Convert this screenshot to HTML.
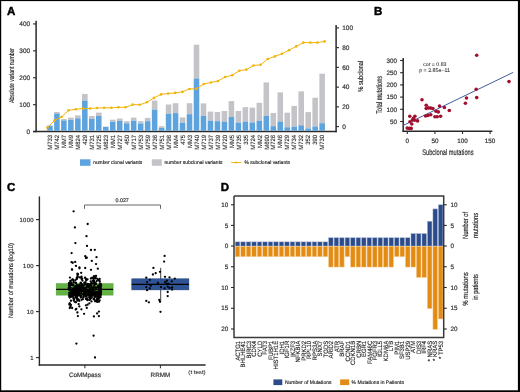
<!DOCTYPE html>
<html><head><meta charset="utf-8"><style>
html,body{margin:0;padding:0;background:#fff;}
svg{display:block;font-family:"Liberation Sans", sans-serif;will-change:transform;text-rendering:geometricPrecision;}
</style></head><body>
<svg width="520" height="392" viewBox="0 0 520 392">

<rect x="0.00" y="0.00" width="520.00" height="1.10" fill="#000"/>
<rect x="0.00" y="0.00" width="1.20" height="392.00" fill="#000"/>
<rect x="517.90" y="0.00" width="2.10" height="392.00" fill="#000"/>
<rect x="0.00" y="390.30" width="520.00" height="1.70" fill="#000"/>
<text x="7.00" y="14.80" font-size="11.5" text-anchor="start" font-weight="bold" fill="#000" stroke="#000" stroke-width="0.45">A</text>
<line x1="36.10" y1="20.80" x2="36.10" y2="132.20" stroke="#2a2a2a" stroke-width="1.5"/>
<line x1="33.00" y1="131.60" x2="36.10" y2="131.60" stroke="#2a2a2a" stroke-width="1.1"/>
<text x="30.20" y="133.90" font-size="6.5" text-anchor="end" font-weight="normal" fill="#333" stroke="#333" stroke-width="0.2">0</text>
<line x1="33.00" y1="104.68" x2="36.10" y2="104.68" stroke="#2a2a2a" stroke-width="1.1"/>
<text x="30.20" y="106.98" font-size="6.5" text-anchor="end" font-weight="normal" fill="#333" stroke="#333" stroke-width="0.2">100</text>
<line x1="33.00" y1="77.76" x2="36.10" y2="77.76" stroke="#2a2a2a" stroke-width="1.1"/>
<text x="30.20" y="80.06" font-size="6.5" text-anchor="end" font-weight="normal" fill="#333" stroke="#333" stroke-width="0.2">200</text>
<line x1="33.00" y1="50.84" x2="36.10" y2="50.84" stroke="#2a2a2a" stroke-width="1.1"/>
<text x="30.20" y="53.14" font-size="6.5" text-anchor="end" font-weight="normal" fill="#333" stroke="#333" stroke-width="0.2">300</text>
<line x1="33.00" y1="23.92" x2="36.10" y2="23.92" stroke="#2a2a2a" stroke-width="1.1"/>
<text x="30.20" y="26.22" font-size="6.5" text-anchor="end" font-weight="normal" fill="#333" stroke="#333" stroke-width="0.2">400</text>
<line x1="33.00" y1="131.50" x2="336.60" y2="131.50" stroke="#2a2a2a" stroke-width="1.5"/>
<line x1="336.10" y1="25.00" x2="336.10" y2="132.20" stroke="#2a2a2a" stroke-width="1.5"/>
<line x1="336.10" y1="126.60" x2="339.00" y2="126.60" stroke="#2a2a2a" stroke-width="1.1"/>
<text x="342.20" y="128.90" font-size="6.5" text-anchor="start" font-weight="normal" fill="#333" stroke="#333" stroke-width="0.2">0</text>
<line x1="336.10" y1="106.86" x2="339.00" y2="106.86" stroke="#2a2a2a" stroke-width="1.1"/>
<text x="342.20" y="109.16" font-size="6.5" text-anchor="start" font-weight="normal" fill="#333" stroke="#333" stroke-width="0.2">20</text>
<line x1="336.10" y1="87.12" x2="339.00" y2="87.12" stroke="#2a2a2a" stroke-width="1.1"/>
<text x="342.20" y="89.42" font-size="6.5" text-anchor="start" font-weight="normal" fill="#333" stroke="#333" stroke-width="0.2">40</text>
<line x1="336.10" y1="67.38" x2="339.00" y2="67.38" stroke="#2a2a2a" stroke-width="1.1"/>
<text x="342.20" y="69.68" font-size="6.5" text-anchor="start" font-weight="normal" fill="#333" stroke="#333" stroke-width="0.2">60</text>
<line x1="336.10" y1="47.64" x2="339.00" y2="47.64" stroke="#2a2a2a" stroke-width="1.1"/>
<text x="342.20" y="49.94" font-size="6.5" text-anchor="start" font-weight="normal" fill="#333" stroke="#333" stroke-width="0.2">80</text>
<line x1="336.10" y1="27.90" x2="339.00" y2="27.90" stroke="#2a2a2a" stroke-width="1.1"/>
<text x="342.20" y="30.20" font-size="6.5" text-anchor="start" font-weight="normal" fill="#333" stroke="#333" stroke-width="0.2">100</text>
<text x="0.00" y="0.00" font-size="7.2" text-anchor="middle" font-weight="normal" fill="#222" stroke="#222" stroke-width="0.15" transform="translate(363.30,76.20) rotate(-90)" textLength="31" lengthAdjust="spacingAndGlyphs">% subclonal</text>
<text x="0.00" y="0.00" font-size="7.0" text-anchor="middle" font-weight="normal" fill="#222" stroke="#222" stroke-width="0.15" transform="translate(13.90,75.50) rotate(-90)" textLength="55" lengthAdjust="spacingAndGlyphs">Absolute variant number</text>
<rect x="47.15" y="125.60" width="5.55" height="5.15" fill="#5DA3DE"/>
<text x="0.00" y="0.00" font-size="6.2" text-anchor="end" font-weight="normal" fill="#222" stroke="#222" stroke-width="0.12" transform="translate(52.12,134.90) rotate(-90) scale(0.96,1)">M733</text>
<rect x="54.13" y="112.00" width="5.55" height="1.50" fill="#C4C3C8"/>
<rect x="54.13" y="113.50" width="5.55" height="17.25" fill="#5DA3DE"/>
<text x="0.00" y="0.00" font-size="6.2" text-anchor="end" font-weight="normal" fill="#222" stroke="#222" stroke-width="0.12" transform="translate(59.10,134.90) rotate(-90) scale(0.96,1)">M742</text>
<rect x="61.11" y="119.00" width="5.55" height="1.40" fill="#C4C3C8"/>
<rect x="61.11" y="120.40" width="5.55" height="10.35" fill="#5DA3DE"/>
<text x="0.00" y="0.00" font-size="6.2" text-anchor="end" font-weight="normal" fill="#222" stroke="#222" stroke-width="0.12" transform="translate(66.08,134.90) rotate(-90) scale(0.96,1)">MM7</text>
<rect x="68.09" y="117.60" width="5.55" height="2.20" fill="#C4C3C8"/>
<rect x="68.09" y="119.80" width="5.55" height="10.95" fill="#5DA3DE"/>
<text x="0.00" y="0.00" font-size="6.2" text-anchor="end" font-weight="normal" fill="#222" stroke="#222" stroke-width="0.12" transform="translate(73.07,134.90) rotate(-90) scale(0.96,1)">MM9</text>
<rect x="75.07" y="115.40" width="5.55" height="2.90" fill="#C4C3C8"/>
<rect x="75.07" y="118.30" width="5.55" height="12.45" fill="#5DA3DE"/>
<text x="0.00" y="0.00" font-size="6.2" text-anchor="end" font-weight="normal" fill="#222" stroke="#222" stroke-width="0.12" transform="translate(80.05,134.90) rotate(-90) scale(0.96,1)">M824</text>
<rect x="82.05" y="94.00" width="5.55" height="6.70" fill="#C4C3C8"/>
<rect x="82.05" y="100.70" width="5.55" height="30.05" fill="#5DA3DE"/>
<text x="0.00" y="0.00" font-size="6.2" text-anchor="end" font-weight="normal" fill="#222" stroke="#222" stroke-width="0.12" transform="translate(87.03,134.90) rotate(-90) scale(0.96,1)">429</text>
<rect x="89.03" y="116.00" width="5.55" height="2.90" fill="#C4C3C8"/>
<rect x="89.03" y="118.90" width="5.55" height="11.85" fill="#5DA3DE"/>
<text x="0.00" y="0.00" font-size="6.2" text-anchor="end" font-weight="normal" fill="#222" stroke="#222" stroke-width="0.12" transform="translate(94.01,134.90) rotate(-90) scale(0.96,1)">M731</text>
<rect x="96.01" y="112.60" width="5.55" height="3.40" fill="#C4C3C8"/>
<rect x="96.01" y="116.00" width="5.55" height="14.75" fill="#5DA3DE"/>
<text x="0.00" y="0.00" font-size="6.2" text-anchor="end" font-weight="normal" fill="#222" stroke="#222" stroke-width="0.12" transform="translate(100.98,134.90) rotate(-90) scale(0.96,1)">M725</text>
<rect x="102.99" y="126.50" width="5.55" height="0.50" fill="#C4C3C8"/>
<rect x="102.99" y="127.00" width="5.55" height="3.75" fill="#5DA3DE"/>
<text x="0.00" y="0.00" font-size="6.2" text-anchor="end" font-weight="normal" fill="#222" stroke="#222" stroke-width="0.12" transform="translate(107.97,134.90) rotate(-90) scale(0.96,1)">M823</text>
<rect x="109.97" y="119.70" width="5.55" height="2.10" fill="#C4C3C8"/>
<rect x="109.97" y="121.80" width="5.55" height="8.95" fill="#5DA3DE"/>
<text x="0.00" y="0.00" font-size="6.2" text-anchor="end" font-weight="normal" fill="#222" stroke="#222" stroke-width="0.12" transform="translate(114.95,134.90) rotate(-90) scale(0.96,1)">MM1</text>
<rect x="116.95" y="118.50" width="5.55" height="2.30" fill="#C4C3C8"/>
<rect x="116.95" y="120.80" width="5.55" height="9.95" fill="#5DA3DE"/>
<text x="0.00" y="0.00" font-size="6.2" text-anchor="end" font-weight="normal" fill="#222" stroke="#222" stroke-width="0.12" transform="translate(121.93,134.90) rotate(-90) scale(0.96,1)">M727</text>
<rect x="123.93" y="121.20" width="5.55" height="2.10" fill="#C4C3C8"/>
<rect x="123.93" y="123.30" width="5.55" height="7.45" fill="#5DA3DE"/>
<text x="0.00" y="0.00" font-size="6.2" text-anchor="end" font-weight="normal" fill="#222" stroke="#222" stroke-width="0.12" transform="translate(128.91,134.90) rotate(-90) scale(0.96,1)">450</text>
<rect x="130.91" y="117.60" width="5.55" height="3.20" fill="#C4C3C8"/>
<rect x="130.91" y="120.80" width="5.55" height="9.95" fill="#5DA3DE"/>
<text x="0.00" y="0.00" font-size="6.2" text-anchor="end" font-weight="normal" fill="#222" stroke="#222" stroke-width="0.12" transform="translate(135.88,134.90) rotate(-90) scale(0.96,1)">M717</text>
<rect x="137.89" y="121.20" width="5.55" height="2.30" fill="#C4C3C8"/>
<rect x="137.89" y="123.50" width="5.55" height="7.25" fill="#5DA3DE"/>
<text x="0.00" y="0.00" font-size="6.2" text-anchor="end" font-weight="normal" fill="#222" stroke="#222" stroke-width="0.12" transform="translate(142.87,134.90) rotate(-90) scale(0.96,1)">M753</text>
<rect x="144.87" y="117.90" width="5.55" height="3.30" fill="#C4C3C8"/>
<rect x="144.87" y="121.20" width="5.55" height="9.55" fill="#5DA3DE"/>
<text x="0.00" y="0.00" font-size="6.2" text-anchor="end" font-weight="normal" fill="#222" stroke="#222" stroke-width="0.12" transform="translate(149.84,134.90) rotate(-90) scale(0.96,1)">M759</text>
<rect x="151.85" y="100.50" width="5.55" height="9.10" fill="#C4C3C8"/>
<rect x="151.85" y="109.60" width="5.55" height="21.15" fill="#5DA3DE"/>
<text x="0.00" y="0.00" font-size="6.2" text-anchor="end" font-weight="normal" fill="#222" stroke="#222" stroke-width="0.12" transform="translate(156.82,134.90) rotate(-90) scale(0.96,1)">M736</text>
<rect x="158.83" y="126.20" width="5.55" height="1.80" fill="#C4C3C8"/>
<rect x="158.83" y="128.00" width="5.55" height="2.75" fill="#5DA3DE"/>
<text x="0.00" y="0.00" font-size="6.2" text-anchor="end" font-weight="normal" fill="#222" stroke="#222" stroke-width="0.12" transform="translate(163.81,134.90) rotate(-90) scale(0.96,1)">M751</text>
<rect x="165.81" y="104.50" width="5.55" height="9.40" fill="#C4C3C8"/>
<rect x="165.81" y="113.90" width="5.55" height="16.85" fill="#5DA3DE"/>
<text x="0.00" y="0.00" font-size="6.2" text-anchor="end" font-weight="normal" fill="#222" stroke="#222" stroke-width="0.12" transform="translate(170.78,134.90) rotate(-90) scale(0.96,1)">M796</text>
<rect x="172.79" y="103.20" width="5.55" height="9.90" fill="#C4C3C8"/>
<rect x="172.79" y="113.10" width="5.55" height="17.65" fill="#5DA3DE"/>
<text x="0.00" y="0.00" font-size="6.2" text-anchor="end" font-weight="normal" fill="#222" stroke="#222" stroke-width="0.12" transform="translate(177.77,134.90) rotate(-90) scale(0.96,1)">MM4</text>
<rect x="179.77" y="117.40" width="5.55" height="5.40" fill="#C4C3C8"/>
<rect x="179.77" y="122.80" width="5.55" height="7.95" fill="#5DA3DE"/>
<text x="0.00" y="0.00" font-size="6.2" text-anchor="end" font-weight="normal" fill="#222" stroke="#222" stroke-width="0.12" transform="translate(184.75,134.90) rotate(-90) scale(0.96,1)">475</text>
<rect x="186.75" y="103.20" width="5.55" height="11.00" fill="#C4C3C8"/>
<rect x="186.75" y="114.20" width="5.55" height="16.55" fill="#5DA3DE"/>
<text x="0.00" y="0.00" font-size="6.2" text-anchor="end" font-weight="normal" fill="#222" stroke="#222" stroke-width="0.12" transform="translate(191.73,134.90) rotate(-90) scale(0.96,1)">MM3</text>
<rect x="193.73" y="44.70" width="5.55" height="33.80" fill="#C4C3C8"/>
<rect x="193.73" y="78.50" width="5.55" height="52.25" fill="#5DA3DE"/>
<text x="0.00" y="0.00" font-size="6.2" text-anchor="end" font-weight="normal" fill="#222" stroke="#222" stroke-width="0.12" transform="translate(198.71,134.90) rotate(-90) scale(0.96,1)">M740</text>
<rect x="200.71" y="103.40" width="5.55" height="12.40" fill="#C4C3C8"/>
<rect x="200.71" y="115.80" width="5.55" height="14.95" fill="#5DA3DE"/>
<text x="0.00" y="0.00" font-size="6.2" text-anchor="end" font-weight="normal" fill="#222" stroke="#222" stroke-width="0.12" transform="translate(205.69,134.90) rotate(-90) scale(0.96,1)">M719</text>
<rect x="207.69" y="111.60" width="5.55" height="9.20" fill="#C4C3C8"/>
<rect x="207.69" y="120.80" width="5.55" height="9.95" fill="#5DA3DE"/>
<text x="0.00" y="0.00" font-size="6.2" text-anchor="end" font-weight="normal" fill="#222" stroke="#222" stroke-width="0.12" transform="translate(212.67,134.90) rotate(-90) scale(0.96,1)">M737</text>
<rect x="214.67" y="112.00" width="5.55" height="9.20" fill="#C4C3C8"/>
<rect x="214.67" y="121.20" width="5.55" height="9.55" fill="#5DA3DE"/>
<text x="0.00" y="0.00" font-size="6.2" text-anchor="end" font-weight="normal" fill="#222" stroke="#222" stroke-width="0.12" transform="translate(219.65,134.90) rotate(-90) scale(0.96,1)">M739</text>
<rect x="221.65" y="111.00" width="5.55" height="10.60" fill="#C4C3C8"/>
<rect x="221.65" y="121.60" width="5.55" height="9.15" fill="#5DA3DE"/>
<text x="0.00" y="0.00" font-size="6.2" text-anchor="end" font-weight="normal" fill="#222" stroke="#222" stroke-width="0.12" transform="translate(226.62,134.90) rotate(-90) scale(0.96,1)">M720</text>
<rect x="228.63" y="101.10" width="5.55" height="15.90" fill="#C4C3C8"/>
<rect x="228.63" y="117.00" width="5.55" height="13.75" fill="#5DA3DE"/>
<text x="0.00" y="0.00" font-size="6.2" text-anchor="end" font-weight="normal" fill="#222" stroke="#222" stroke-width="0.12" transform="translate(233.61,134.90) rotate(-90) scale(0.96,1)">MM5</text>
<rect x="235.61" y="111.00" width="5.55" height="11.70" fill="#C4C3C8"/>
<rect x="235.61" y="122.70" width="5.55" height="8.05" fill="#5DA3DE"/>
<text x="0.00" y="0.00" font-size="6.2" text-anchor="end" font-weight="normal" fill="#222" stroke="#222" stroke-width="0.12" transform="translate(240.59,134.90) rotate(-90) scale(0.96,1)">M735</text>
<rect x="242.59" y="107.20" width="5.55" height="14.40" fill="#C4C3C8"/>
<rect x="242.59" y="121.60" width="5.55" height="9.15" fill="#5DA3DE"/>
<text x="0.00" y="0.00" font-size="6.2" text-anchor="end" font-weight="normal" fill="#222" stroke="#222" stroke-width="0.12" transform="translate(247.56,134.90) rotate(-90) scale(0.96,1)">335</text>
<rect x="249.57" y="107.60" width="5.55" height="14.90" fill="#C4C3C8"/>
<rect x="249.57" y="122.50" width="5.55" height="8.25" fill="#5DA3DE"/>
<text x="0.00" y="0.00" font-size="6.2" text-anchor="end" font-weight="normal" fill="#222" stroke="#222" stroke-width="0.12" transform="translate(254.55,134.90) rotate(-90) scale(0.96,1)">M724</text>
<rect x="256.55" y="102.80" width="5.55" height="18.00" fill="#C4C3C8"/>
<rect x="256.55" y="120.80" width="5.55" height="9.95" fill="#5DA3DE"/>
<text x="0.00" y="0.00" font-size="6.2" text-anchor="end" font-weight="normal" fill="#222" stroke="#222" stroke-width="0.12" transform="translate(261.52,134.90) rotate(-90) scale(0.96,1)">MM2</text>
<rect x="263.53" y="82.40" width="5.55" height="33.50" fill="#C4C3C8"/>
<rect x="263.53" y="115.90" width="5.55" height="14.85" fill="#5DA3DE"/>
<text x="0.00" y="0.00" font-size="6.2" text-anchor="end" font-weight="normal" fill="#222" stroke="#222" stroke-width="0.12" transform="translate(268.50,134.90) rotate(-90) scale(0.96,1)">M690</text>
<rect x="270.51" y="113.00" width="5.55" height="13.20" fill="#C4C3C8"/>
<rect x="270.51" y="126.20" width="5.55" height="4.55" fill="#5DA3DE"/>
<text x="0.00" y="0.00" font-size="6.2" text-anchor="end" font-weight="normal" fill="#222" stroke="#222" stroke-width="0.12" transform="translate(275.48,134.90) rotate(-90) scale(0.96,1)">M726</text>
<rect x="277.49" y="92.40" width="5.55" height="29.10" fill="#C4C3C8"/>
<rect x="277.49" y="121.50" width="5.55" height="9.25" fill="#5DA3DE"/>
<text x="0.00" y="0.00" font-size="6.2" text-anchor="end" font-weight="normal" fill="#222" stroke="#222" stroke-width="0.12" transform="translate(282.46,134.90) rotate(-90) scale(0.96,1)">MM6</text>
<rect x="284.47" y="112.70" width="5.55" height="14.60" fill="#C4C3C8"/>
<rect x="284.47" y="127.30" width="5.55" height="3.45" fill="#5DA3DE"/>
<text x="0.00" y="0.00" font-size="6.2" text-anchor="end" font-weight="normal" fill="#222" stroke="#222" stroke-width="0.12" transform="translate(289.44,134.90) rotate(-90) scale(0.96,1)">M729</text>
<rect x="291.45" y="105.90" width="5.55" height="20.80" fill="#C4C3C8"/>
<rect x="291.45" y="126.70" width="5.55" height="4.05" fill="#5DA3DE"/>
<text x="0.00" y="0.00" font-size="6.2" text-anchor="end" font-weight="normal" fill="#222" stroke="#222" stroke-width="0.12" transform="translate(296.42,134.90) rotate(-90) scale(0.96,1)">M734</text>
<rect x="298.43" y="91.30" width="5.55" height="34.00" fill="#C4C3C8"/>
<rect x="298.43" y="125.30" width="5.55" height="5.45" fill="#5DA3DE"/>
<text x="0.00" y="0.00" font-size="6.2" text-anchor="end" font-weight="normal" fill="#222" stroke="#222" stroke-width="0.12" transform="translate(303.40,134.90) rotate(-90) scale(0.96,1)">M732</text>
<rect x="305.41" y="112.10" width="5.55" height="16.40" fill="#C4C3C8"/>
<rect x="305.41" y="128.50" width="5.55" height="2.25" fill="#5DA3DE"/>
<text x="0.00" y="0.00" font-size="6.2" text-anchor="end" font-weight="normal" fill="#222" stroke="#222" stroke-width="0.12" transform="translate(310.38,134.90) rotate(-90) scale(0.96,1)">352</text>
<rect x="312.39" y="97.70" width="5.55" height="28.80" fill="#C4C3C8"/>
<rect x="312.39" y="126.50" width="5.55" height="4.25" fill="#5DA3DE"/>
<text x="0.00" y="0.00" font-size="6.2" text-anchor="end" font-weight="normal" fill="#222" stroke="#222" stroke-width="0.12" transform="translate(317.36,134.90) rotate(-90) scale(0.96,1)">390</text>
<rect x="319.37" y="73.70" width="5.55" height="49.50" fill="#C4C3C8"/>
<rect x="319.37" y="123.20" width="5.55" height="7.55" fill="#5DA3DE"/>
<text x="0.00" y="0.00" font-size="6.2" text-anchor="end" font-weight="normal" fill="#222" stroke="#222" stroke-width="0.12" transform="translate(324.34,134.90) rotate(-90) scale(0.96,1)">M730</text>
<polyline points="47.30,127.80 54.41,120.60 61.52,117.00 68.63,110.30 75.74,109.30 82.85,108.50 89.96,108.50 97.07,108.00 104.18,107.80 111.29,107.80 118.40,107.30 125.51,107.30 132.62,104.60 139.73,104.80 146.84,102.30 153.95,97.90 161.06,94.40 168.17,93.50 175.28,92.90 182.39,91.90 189.50,89.00 196.61,88.80 203.72,84.00 210.83,82.50 217.94,81.00 225.05,77.00 232.16,75.30 239.27,70.70 246.38,69.60 253.49,65.50 260.60,64.80 267.71,59.00 274.82,56.40 281.93,53.70 289.04,50.20 296.15,46.40 303.26,42.60 310.37,42.60 317.48,42.60 324.59,41.40" fill="none" stroke="#F1B409" stroke-width="1.0"/>
<circle cx="47.30" cy="127.80" r="1.3" fill="#F1B409"/>
<circle cx="54.41" cy="120.60" r="1.3" fill="#F1B409"/>
<circle cx="61.52" cy="117.00" r="1.3" fill="#F1B409"/>
<circle cx="68.63" cy="110.30" r="1.3" fill="#F1B409"/>
<circle cx="75.74" cy="109.30" r="1.3" fill="#F1B409"/>
<circle cx="82.85" cy="108.50" r="1.3" fill="#F1B409"/>
<circle cx="89.96" cy="108.50" r="1.3" fill="#F1B409"/>
<circle cx="97.07" cy="108.00" r="1.3" fill="#F1B409"/>
<circle cx="104.18" cy="107.80" r="1.3" fill="#F1B409"/>
<circle cx="111.29" cy="107.80" r="1.3" fill="#F1B409"/>
<circle cx="118.40" cy="107.30" r="1.3" fill="#F1B409"/>
<circle cx="125.51" cy="107.30" r="1.3" fill="#F1B409"/>
<circle cx="132.62" cy="104.60" r="1.3" fill="#F1B409"/>
<circle cx="139.73" cy="104.80" r="1.3" fill="#F1B409"/>
<circle cx="146.84" cy="102.30" r="1.3" fill="#F1B409"/>
<circle cx="153.95" cy="97.90" r="1.3" fill="#F1B409"/>
<circle cx="161.06" cy="94.40" r="1.3" fill="#F1B409"/>
<circle cx="168.17" cy="93.50" r="1.3" fill="#F1B409"/>
<circle cx="175.28" cy="92.90" r="1.3" fill="#F1B409"/>
<circle cx="182.39" cy="91.90" r="1.3" fill="#F1B409"/>
<circle cx="189.50" cy="89.00" r="1.3" fill="#F1B409"/>
<circle cx="196.61" cy="88.80" r="1.3" fill="#F1B409"/>
<circle cx="203.72" cy="84.00" r="1.3" fill="#F1B409"/>
<circle cx="210.83" cy="82.50" r="1.3" fill="#F1B409"/>
<circle cx="217.94" cy="81.00" r="1.3" fill="#F1B409"/>
<circle cx="225.05" cy="77.00" r="1.3" fill="#F1B409"/>
<circle cx="232.16" cy="75.30" r="1.3" fill="#F1B409"/>
<circle cx="239.27" cy="70.70" r="1.3" fill="#F1B409"/>
<circle cx="246.38" cy="69.60" r="1.3" fill="#F1B409"/>
<circle cx="253.49" cy="65.50" r="1.3" fill="#F1B409"/>
<circle cx="260.60" cy="64.80" r="1.3" fill="#F1B409"/>
<circle cx="267.71" cy="59.00" r="1.3" fill="#F1B409"/>
<circle cx="274.82" cy="56.40" r="1.3" fill="#F1B409"/>
<circle cx="281.93" cy="53.70" r="1.3" fill="#F1B409"/>
<circle cx="289.04" cy="50.20" r="1.3" fill="#F1B409"/>
<circle cx="296.15" cy="46.40" r="1.3" fill="#F1B409"/>
<circle cx="303.26" cy="42.60" r="1.3" fill="#F1B409"/>
<circle cx="310.37" cy="42.60" r="1.3" fill="#F1B409"/>
<circle cx="317.48" cy="42.60" r="1.3" fill="#F1B409"/>
<circle cx="324.59" cy="41.40" r="1.3" fill="#F1B409"/>
<rect x="80.00" y="159.30" width="10.50" height="6.50" fill="#5DA3DE"/>
<text x="93.20" y="164.30" font-size="5.2" text-anchor="start" font-weight="normal" fill="#222" stroke="#222" stroke-width="0.15" textLength="49" lengthAdjust="spacingAndGlyphs">number clonal variants</text>
<rect x="151.80" y="159.30" width="10.00" height="6.50" fill="#C4C3C8"/>
<text x="164.50" y="164.30" font-size="5.2" text-anchor="start" font-weight="normal" fill="#222" stroke="#222" stroke-width="0.15" textLength="58" lengthAdjust="spacingAndGlyphs">number subclonal variants</text>
<line x1="231.20" y1="162.50" x2="241.20" y2="162.50" stroke="#F1B409" stroke-width="1.0"/>
<circle cx="236.2" cy="162.5" r="1.1" fill="#F1B409"/>
<text x="244.50" y="164.30" font-size="5.2" text-anchor="start" font-weight="normal" fill="#222" stroke="#222" stroke-width="0.15" textLength="45.5" lengthAdjust="spacingAndGlyphs">% subclonal variants</text>
<text x="374.00" y="14.80" font-size="11.5" text-anchor="start" font-weight="bold" fill="#000" stroke="#000" stroke-width="0.45">B</text>
<line x1="403.20" y1="57.90" x2="403.20" y2="131.90" stroke="#2a2a2a" stroke-width="1.5"/>
<line x1="402.50" y1="131.30" x2="492.40" y2="131.30" stroke="#2a2a2a" stroke-width="1.5"/>
<line x1="400.10" y1="121.50" x2="403.20" y2="121.50" stroke="#2a2a2a" stroke-width="1.1"/>
<text x="397.00" y="123.70" font-size="6.3" text-anchor="end" font-weight="normal" fill="#333" stroke="#333" stroke-width="0.2">50</text>
<line x1="400.10" y1="109.30" x2="403.20" y2="109.30" stroke="#2a2a2a" stroke-width="1.1"/>
<text x="397.00" y="111.50" font-size="6.3" text-anchor="end" font-weight="normal" fill="#333" stroke="#333" stroke-width="0.2">100</text>
<line x1="400.10" y1="97.10" x2="403.20" y2="97.10" stroke="#2a2a2a" stroke-width="1.1"/>
<text x="397.00" y="99.30" font-size="6.3" text-anchor="end" font-weight="normal" fill="#333" stroke="#333" stroke-width="0.2">150</text>
<line x1="400.10" y1="84.90" x2="403.20" y2="84.90" stroke="#2a2a2a" stroke-width="1.1"/>
<text x="397.00" y="87.10" font-size="6.3" text-anchor="end" font-weight="normal" fill="#333" stroke="#333" stroke-width="0.2">200</text>
<line x1="400.10" y1="72.70" x2="403.20" y2="72.70" stroke="#2a2a2a" stroke-width="1.1"/>
<text x="397.00" y="74.90" font-size="6.3" text-anchor="end" font-weight="normal" fill="#333" stroke="#333" stroke-width="0.2">250</text>
<line x1="400.10" y1="60.50" x2="403.20" y2="60.50" stroke="#2a2a2a" stroke-width="1.1"/>
<text x="397.00" y="62.70" font-size="6.3" text-anchor="end" font-weight="normal" fill="#333" stroke="#333" stroke-width="0.2">300</text>
<line x1="407.30" y1="131.30" x2="407.30" y2="134.00" stroke="#2a2a2a" stroke-width="1.1"/>
<text x="407.30" y="143.30" font-size="6.3" text-anchor="middle" font-weight="normal" fill="#333" stroke="#333" stroke-width="0.2">0</text>
<line x1="434.90" y1="131.30" x2="434.90" y2="134.00" stroke="#2a2a2a" stroke-width="1.1"/>
<text x="434.90" y="143.30" font-size="6.3" text-anchor="middle" font-weight="normal" fill="#333" stroke="#333" stroke-width="0.2">50</text>
<line x1="462.50" y1="131.30" x2="462.50" y2="134.00" stroke="#2a2a2a" stroke-width="1.1"/>
<text x="462.50" y="143.30" font-size="6.3" text-anchor="middle" font-weight="normal" fill="#333" stroke="#333" stroke-width="0.2">100</text>
<line x1="490.10" y1="131.30" x2="490.10" y2="134.00" stroke="#2a2a2a" stroke-width="1.1"/>
<text x="490.10" y="143.30" font-size="6.3" text-anchor="middle" font-weight="normal" fill="#333" stroke="#333" stroke-width="0.2">150</text>
<text x="447.90" y="155.40" font-size="8.2" text-anchor="middle" font-weight="normal" fill="#222" stroke="#222" stroke-width="0.15" textLength="51.4" lengthAdjust="spacingAndGlyphs">Subclonal mutations</text>
<text x="0.00" y="0.00" font-size="8.2" text-anchor="middle" font-weight="normal" fill="#222" stroke="#222" stroke-width="0.15" transform="translate(381.60,94.80) rotate(-90)" textLength="38" lengthAdjust="spacingAndGlyphs">Total mutations</text>
<text x="434.80" y="66.20" font-size="5.2" text-anchor="middle" font-weight="normal" fill="#333" stroke="#333" stroke-width="0.08">cor = 0.83</text>
<text x="434.60" y="72.10" font-size="5.3" text-anchor="middle" font-weight="normal" fill="#333" stroke="#333" stroke-width="0.08">p = 2.85e−11</text>
<line x1="403.50" y1="125.30" x2="513.20" y2="72.40" stroke="#3D5F98" stroke-width="1.0"/>
<circle cx="476.7" cy="55.3" r="1.8" fill="#A30F2E"/>
<circle cx="509" cy="81.6" r="1.8" fill="#A30F2E"/>
<circle cx="476.2" cy="89.3" r="1.8" fill="#A30F2E"/>
<circle cx="466.5" cy="98" r="1.8" fill="#A30F2E"/>
<circle cx="476.7" cy="97.6" r="1.8" fill="#A30F2E"/>
<circle cx="465.4" cy="103.3" r="1.8" fill="#A30F2E"/>
<circle cx="422" cy="99.8" r="1.8" fill="#A30F2E"/>
<circle cx="426.2" cy="105.2" r="1.8" fill="#A30F2E"/>
<circle cx="426.2" cy="108.5" r="1.8" fill="#A30F2E"/>
<circle cx="428.5" cy="107.9" r="1.8" fill="#A30F2E"/>
<circle cx="430.8" cy="108.1" r="1.8" fill="#A30F2E"/>
<circle cx="432.9" cy="108.5" r="1.8" fill="#A30F2E"/>
<circle cx="439.5" cy="106.1" r="1.8" fill="#A30F2E"/>
<circle cx="444.4" cy="107.5" r="1.8" fill="#A30F2E"/>
<circle cx="449.3" cy="110.5" r="1.8" fill="#A30F2E"/>
<circle cx="436" cy="111.3" r="1.8" fill="#A30F2E"/>
<circle cx="438.3" cy="111.9" r="1.8" fill="#A30F2E"/>
<circle cx="425.6" cy="116" r="1.8" fill="#A30F2E"/>
<circle cx="428" cy="115.4" r="1.8" fill="#A30F2E"/>
<circle cx="430.8" cy="114.8" r="1.8" fill="#A30F2E"/>
<circle cx="434.9" cy="116.8" r="1.8" fill="#A30F2E"/>
<circle cx="437.2" cy="116.8" r="1.8" fill="#A30F2E"/>
<circle cx="440.6" cy="116.3" r="1.8" fill="#A30F2E"/>
<circle cx="409.8" cy="116.2" r="1.8" fill="#A30F2E"/>
<circle cx="414.9" cy="116.3" r="1.8" fill="#A30F2E"/>
<circle cx="413.5" cy="118.3" r="1.8" fill="#A30F2E"/>
<circle cx="412.4" cy="120" r="1.8" fill="#A30F2E"/>
<circle cx="417.6" cy="120.9" r="1.8" fill="#A30F2E"/>
<circle cx="410" cy="121.7" r="1.8" fill="#A30F2E"/>
<circle cx="411.8" cy="124" r="1.8" fill="#A30F2E"/>
<circle cx="407.2" cy="128.1" r="1.8" fill="#A30F2E"/>
<circle cx="409.5" cy="128.4" r="1.8" fill="#A30F2E"/>
<circle cx="411.2" cy="128.4" r="1.8" fill="#A30F2E"/>
<circle cx="414.7" cy="120.2" r="1.8" fill="#A30F2E"/>
<text x="7.00" y="190.60" font-size="11.5" text-anchor="start" font-weight="bold" fill="#000" stroke="#000" stroke-width="0.45">C</text>
<line x1="39.40" y1="196.40" x2="39.40" y2="365.70" stroke="#2a2a2a" stroke-width="1.4"/>
<line x1="38.70" y1="365.00" x2="205.60" y2="365.00" stroke="#2a2a2a" stroke-width="1.5"/>
<line x1="36.00" y1="357.60" x2="39.40" y2="357.60" stroke="#2a2a2a" stroke-width="1.1"/>
<text x="33.80" y="359.70" font-size="5.9" text-anchor="end" font-weight="normal" fill="#333" stroke="#333" stroke-width="0.2" letter-spacing="0.3">1</text>
<line x1="36.00" y1="311.60" x2="39.40" y2="311.60" stroke="#2a2a2a" stroke-width="1.1"/>
<text x="33.80" y="313.70" font-size="5.9" text-anchor="end" font-weight="normal" fill="#333" stroke="#333" stroke-width="0.2" letter-spacing="0.3">10</text>
<line x1="36.00" y1="265.60" x2="39.40" y2="265.60" stroke="#2a2a2a" stroke-width="1.1"/>
<text x="33.80" y="267.70" font-size="5.9" text-anchor="end" font-weight="normal" fill="#333" stroke="#333" stroke-width="0.2" letter-spacing="0.3">100</text>
<line x1="36.00" y1="219.60" x2="39.40" y2="219.60" stroke="#2a2a2a" stroke-width="1.1"/>
<text x="33.80" y="221.70" font-size="5.9" text-anchor="end" font-weight="normal" fill="#333" stroke="#333" stroke-width="0.2" letter-spacing="0.3">1000</text>
<line x1="84.90" y1="365.00" x2="84.90" y2="368.30" stroke="#2a2a2a" stroke-width="1.0"/>
<text x="84.90" y="377.00" font-size="6.3" text-anchor="middle" font-weight="normal" fill="#333" stroke="#333" stroke-width="0.2">CoMMpass</text>
<line x1="160.40" y1="365.00" x2="160.40" y2="368.30" stroke="#2a2a2a" stroke-width="1.0"/>
<text x="160.40" y="377.00" font-size="6.3" text-anchor="middle" font-weight="normal" fill="#333" stroke="#333" stroke-width="0.2">RRMM</text>
<text x="197.00" y="373.50" font-size="5.6" text-anchor="middle" font-weight="normal" fill="#333" stroke="#333" stroke-width="0.1" textLength="17.3" lengthAdjust="spacingAndGlyphs">(t test)</text>
<text x="0.00" y="0.00" font-size="6.6" text-anchor="middle" font-weight="normal" fill="#222" stroke="#222" stroke-width="0.15" transform="translate(12.80,280.50) rotate(-90)" textLength="75" lengthAdjust="spacingAndGlyphs">Number of mutations (log10)</text>
<polyline points="84.5,208.8 84.5,205 160.5,205 160.5,208.8" fill="none" stroke="#555" stroke-width="0.9"/>
<text x="122.20" y="201.70" font-size="5.3" text-anchor="middle" font-weight="normal" fill="#333" stroke="#333" stroke-width="0.2">0.027</text>
<rect x="56.20" y="283.60" width="56.90" height="11.50" fill="#64B445" stroke="#4E9A35" stroke-width="0.5"/>
<line x1="56.20" y1="289.40" x2="113.10" y2="289.40" stroke="#000" stroke-width="1.2"/>
<line x1="160.70" y1="267.90" x2="160.70" y2="301.80" stroke="#111" stroke-width="0.8"/>
<rect x="131.80" y="278.80" width="57.10" height="11.10" fill="#2F5395" stroke="#203E78" stroke-width="0.5"/>
<line x1="131.80" y1="284.40" x2="188.90" y2="284.40" stroke="#000" stroke-width="1.2"/>
<circle cx="89.89" cy="288.39" r="1.15" fill="#000"/>
<circle cx="71.15" cy="293.22" r="1.15" fill="#000"/>
<circle cx="70.68" cy="284.14" r="1.15" fill="#000"/>
<circle cx="85.24" cy="288.66" r="1.15" fill="#000"/>
<circle cx="71.06" cy="296.53" r="1.15" fill="#000"/>
<circle cx="71.74" cy="291.57" r="1.15" fill="#000"/>
<circle cx="72.81" cy="279.50" r="1.15" fill="#000"/>
<circle cx="76.03" cy="295.39" r="1.15" fill="#000"/>
<circle cx="87.50" cy="279.34" r="1.15" fill="#000"/>
<circle cx="81.65" cy="279.01" r="1.15" fill="#000"/>
<circle cx="96.61" cy="291.92" r="1.15" fill="#000"/>
<circle cx="78.18" cy="289.71" r="1.15" fill="#000"/>
<circle cx="78.79" cy="291.94" r="1.15" fill="#000"/>
<circle cx="95.24" cy="292.48" r="1.15" fill="#000"/>
<circle cx="89.50" cy="293.51" r="1.15" fill="#000"/>
<circle cx="80.87" cy="297.54" r="1.15" fill="#000"/>
<circle cx="70.73" cy="287.83" r="1.15" fill="#000"/>
<circle cx="75.47" cy="289.33" r="1.15" fill="#000"/>
<circle cx="78.98" cy="287.18" r="1.15" fill="#000"/>
<circle cx="87.77" cy="283.97" r="1.15" fill="#000"/>
<circle cx="94.54" cy="284.91" r="1.15" fill="#000"/>
<circle cx="91.45" cy="291.54" r="1.15" fill="#000"/>
<circle cx="85.82" cy="290.31" r="1.15" fill="#000"/>
<circle cx="97.15" cy="298.23" r="1.15" fill="#000"/>
<circle cx="100.56" cy="289.33" r="1.15" fill="#000"/>
<circle cx="72.63" cy="284.85" r="1.15" fill="#000"/>
<circle cx="73.72" cy="280.77" r="1.15" fill="#000"/>
<circle cx="84.64" cy="295.22" r="1.15" fill="#000"/>
<circle cx="93.57" cy="299.08" r="1.15" fill="#000"/>
<circle cx="87.37" cy="292.28" r="1.15" fill="#000"/>
<circle cx="91.33" cy="293.88" r="1.15" fill="#000"/>
<circle cx="88.06" cy="286.15" r="1.15" fill="#000"/>
<circle cx="96.01" cy="283.90" r="1.15" fill="#000"/>
<circle cx="99.41" cy="286.65" r="1.15" fill="#000"/>
<circle cx="70.77" cy="280.82" r="1.15" fill="#000"/>
<circle cx="91.53" cy="291.51" r="1.15" fill="#000"/>
<circle cx="95.43" cy="278.03" r="1.15" fill="#000"/>
<circle cx="78.02" cy="274.14" r="1.15" fill="#000"/>
<circle cx="69.53" cy="282.95" r="1.15" fill="#000"/>
<circle cx="83.76" cy="296.16" r="1.15" fill="#000"/>
<circle cx="70.71" cy="291.55" r="1.15" fill="#000"/>
<circle cx="93.69" cy="292.74" r="1.15" fill="#000"/>
<circle cx="81.47" cy="293.27" r="1.15" fill="#000"/>
<circle cx="97.03" cy="293.45" r="1.15" fill="#000"/>
<circle cx="86.60" cy="296.02" r="1.15" fill="#000"/>
<circle cx="97.42" cy="293.34" r="1.15" fill="#000"/>
<circle cx="77.82" cy="295.31" r="1.15" fill="#000"/>
<circle cx="82.26" cy="278.59" r="1.15" fill="#000"/>
<circle cx="99.83" cy="281.74" r="1.15" fill="#000"/>
<circle cx="73.69" cy="300.14" r="1.15" fill="#000"/>
<circle cx="76.36" cy="292.05" r="1.15" fill="#000"/>
<circle cx="84.51" cy="294.09" r="1.15" fill="#000"/>
<circle cx="68.93" cy="285.83" r="1.15" fill="#000"/>
<circle cx="82.37" cy="287.39" r="1.15" fill="#000"/>
<circle cx="99.68" cy="284.45" r="1.15" fill="#000"/>
<circle cx="91.17" cy="295.96" r="1.15" fill="#000"/>
<circle cx="90.71" cy="281.31" r="1.15" fill="#000"/>
<circle cx="70.55" cy="289.15" r="1.15" fill="#000"/>
<circle cx="97.13" cy="298.85" r="1.15" fill="#000"/>
<circle cx="94.65" cy="283.53" r="1.15" fill="#000"/>
<circle cx="72.15" cy="285.04" r="1.15" fill="#000"/>
<circle cx="89.35" cy="293.98" r="1.15" fill="#000"/>
<circle cx="75.56" cy="292.17" r="1.15" fill="#000"/>
<circle cx="74.06" cy="290.90" r="1.15" fill="#000"/>
<circle cx="68.81" cy="288.89" r="1.15" fill="#000"/>
<circle cx="73.70" cy="291.75" r="1.15" fill="#000"/>
<circle cx="69.63" cy="294.81" r="1.15" fill="#000"/>
<circle cx="97.13" cy="293.57" r="1.15" fill="#000"/>
<circle cx="76.97" cy="287.31" r="1.15" fill="#000"/>
<circle cx="80.06" cy="287.65" r="1.15" fill="#000"/>
<circle cx="96.31" cy="287.88" r="1.15" fill="#000"/>
<circle cx="100.98" cy="292.43" r="1.15" fill="#000"/>
<circle cx="71.58" cy="282.92" r="1.15" fill="#000"/>
<circle cx="72.11" cy="291.54" r="1.15" fill="#000"/>
<circle cx="95.65" cy="287.28" r="1.15" fill="#000"/>
<circle cx="74.03" cy="294.13" r="1.15" fill="#000"/>
<circle cx="85.92" cy="305.31" r="1.15" fill="#000"/>
<circle cx="73.55" cy="292.24" r="1.15" fill="#000"/>
<circle cx="85.91" cy="288.58" r="1.15" fill="#000"/>
<circle cx="100.50" cy="289.60" r="1.15" fill="#000"/>
<circle cx="77.26" cy="296.35" r="1.15" fill="#000"/>
<circle cx="80.68" cy="282.64" r="1.15" fill="#000"/>
<circle cx="86.06" cy="295.39" r="1.15" fill="#000"/>
<circle cx="94.04" cy="299.39" r="1.15" fill="#000"/>
<circle cx="95.09" cy="287.85" r="1.15" fill="#000"/>
<circle cx="100.71" cy="293.93" r="1.15" fill="#000"/>
<circle cx="95.31" cy="296.86" r="1.15" fill="#000"/>
<circle cx="92.77" cy="280.88" r="1.15" fill="#000"/>
<circle cx="80.32" cy="291.11" r="1.15" fill="#000"/>
<circle cx="69.74" cy="297.53" r="1.15" fill="#000"/>
<circle cx="77.20" cy="295.02" r="1.15" fill="#000"/>
<circle cx="91.24" cy="290.89" r="1.15" fill="#000"/>
<circle cx="99.16" cy="296.61" r="1.15" fill="#000"/>
<circle cx="100.81" cy="288.15" r="1.15" fill="#000"/>
<circle cx="75.94" cy="295.76" r="1.15" fill="#000"/>
<circle cx="76.15" cy="288.33" r="1.15" fill="#000"/>
<circle cx="89.02" cy="291.40" r="1.15" fill="#000"/>
<circle cx="97.97" cy="294.02" r="1.15" fill="#000"/>
<circle cx="89.96" cy="293.87" r="1.15" fill="#000"/>
<circle cx="94.71" cy="283.93" r="1.15" fill="#000"/>
<circle cx="98.28" cy="297.98" r="1.15" fill="#000"/>
<circle cx="94.15" cy="294.70" r="1.15" fill="#000"/>
<circle cx="74.58" cy="290.01" r="1.15" fill="#000"/>
<circle cx="94.37" cy="282.82" r="1.15" fill="#000"/>
<circle cx="100.28" cy="284.39" r="1.15" fill="#000"/>
<circle cx="81.63" cy="299.83" r="1.15" fill="#000"/>
<circle cx="92.28" cy="277.58" r="1.15" fill="#000"/>
<circle cx="74.31" cy="298.86" r="1.15" fill="#000"/>
<circle cx="98.12" cy="292.52" r="1.15" fill="#000"/>
<circle cx="94.93" cy="292.58" r="1.15" fill="#000"/>
<circle cx="100.56" cy="297.16" r="1.15" fill="#000"/>
<circle cx="90.10" cy="299.37" r="1.15" fill="#000"/>
<circle cx="73.04" cy="285.31" r="1.15" fill="#000"/>
<circle cx="69.26" cy="296.42" r="1.15" fill="#000"/>
<circle cx="85.86" cy="298.97" r="1.15" fill="#000"/>
<circle cx="99.05" cy="288.34" r="1.15" fill="#000"/>
<circle cx="95.57" cy="278.32" r="1.15" fill="#000"/>
<circle cx="75.64" cy="295.16" r="1.15" fill="#000"/>
<circle cx="76.59" cy="289.94" r="1.15" fill="#000"/>
<circle cx="87.80" cy="295.25" r="1.15" fill="#000"/>
<circle cx="73.05" cy="289.61" r="1.15" fill="#000"/>
<circle cx="98.28" cy="296.55" r="1.15" fill="#000"/>
<circle cx="87.70" cy="285.77" r="1.15" fill="#000"/>
<circle cx="98.10" cy="295.54" r="1.15" fill="#000"/>
<circle cx="85.05" cy="277.63" r="1.15" fill="#000"/>
<circle cx="86.03" cy="296.73" r="1.15" fill="#000"/>
<circle cx="83.06" cy="288.79" r="1.15" fill="#000"/>
<circle cx="74.73" cy="289.82" r="1.15" fill="#000"/>
<circle cx="74.38" cy="301.28" r="1.15" fill="#000"/>
<circle cx="84.14" cy="290.28" r="1.15" fill="#000"/>
<circle cx="79.36" cy="288.75" r="1.15" fill="#000"/>
<circle cx="85.59" cy="282.06" r="1.15" fill="#000"/>
<circle cx="72.24" cy="279.63" r="1.15" fill="#000"/>
<circle cx="86.95" cy="286.23" r="1.15" fill="#000"/>
<circle cx="93.82" cy="290.05" r="1.15" fill="#000"/>
<circle cx="85.25" cy="295.07" r="1.15" fill="#000"/>
<circle cx="98.36" cy="280.15" r="1.15" fill="#000"/>
<circle cx="83.16" cy="285.97" r="1.15" fill="#000"/>
<circle cx="85.39" cy="284.32" r="1.15" fill="#000"/>
<circle cx="91.24" cy="285.14" r="1.15" fill="#000"/>
<circle cx="84.29" cy="282.57" r="1.15" fill="#000"/>
<circle cx="99.30" cy="292.29" r="1.15" fill="#000"/>
<circle cx="99.33" cy="285.96" r="1.15" fill="#000"/>
<circle cx="77.21" cy="277.76" r="1.15" fill="#000"/>
<circle cx="96.02" cy="275.95" r="1.15" fill="#000"/>
<circle cx="73.24" cy="284.49" r="1.15" fill="#000"/>
<circle cx="71.15" cy="294.91" r="1.15" fill="#000"/>
<circle cx="76.60" cy="294.71" r="1.15" fill="#000"/>
<circle cx="94.20" cy="298.40" r="1.15" fill="#000"/>
<circle cx="97.86" cy="294.16" r="1.15" fill="#000"/>
<circle cx="90.19" cy="295.65" r="1.15" fill="#000"/>
<circle cx="73.43" cy="298.25" r="1.15" fill="#000"/>
<circle cx="75.91" cy="302.22" r="1.15" fill="#000"/>
<circle cx="99.66" cy="278.92" r="1.15" fill="#000"/>
<circle cx="100.87" cy="284.16" r="1.15" fill="#000"/>
<circle cx="95.77" cy="294.34" r="1.15" fill="#000"/>
<circle cx="85.51" cy="293.54" r="1.15" fill="#000"/>
<circle cx="79.79" cy="295.69" r="1.15" fill="#000"/>
<circle cx="92.20" cy="291.84" r="1.15" fill="#000"/>
<circle cx="69.43" cy="295.20" r="1.15" fill="#000"/>
<circle cx="69.39" cy="283.60" r="1.15" fill="#000"/>
<circle cx="79.54" cy="287.74" r="1.15" fill="#000"/>
<circle cx="70.88" cy="284.63" r="1.15" fill="#000"/>
<circle cx="100.72" cy="284.70" r="1.15" fill="#000"/>
<circle cx="72.19" cy="294.02" r="1.15" fill="#000"/>
<circle cx="77.40" cy="273.66" r="1.15" fill="#000"/>
<circle cx="77.56" cy="300.61" r="1.15" fill="#000"/>
<circle cx="73.00" cy="292.69" r="1.15" fill="#000"/>
<circle cx="95.33" cy="277.75" r="1.15" fill="#000"/>
<circle cx="77.18" cy="296.51" r="1.15" fill="#000"/>
<circle cx="87.29" cy="298.35" r="1.15" fill="#000"/>
<circle cx="91.49" cy="301.40" r="1.15" fill="#000"/>
<circle cx="91.10" cy="291.83" r="1.15" fill="#000"/>
<circle cx="82.58" cy="291.16" r="1.15" fill="#000"/>
<circle cx="89.36" cy="303.36" r="1.15" fill="#000"/>
<circle cx="94.77" cy="296.54" r="1.15" fill="#000"/>
<circle cx="70.96" cy="300.73" r="1.15" fill="#000"/>
<circle cx="96.75" cy="296.23" r="1.15" fill="#000"/>
<circle cx="86.72" cy="284.51" r="1.15" fill="#000"/>
<circle cx="98.82" cy="291.64" r="1.15" fill="#000"/>
<circle cx="85.87" cy="289.63" r="1.15" fill="#000"/>
<circle cx="76.53" cy="293.29" r="1.15" fill="#000"/>
<circle cx="70.43" cy="292.89" r="1.15" fill="#000"/>
<circle cx="75.34" cy="292.37" r="1.15" fill="#000"/>
<circle cx="93.41" cy="287.96" r="1.15" fill="#000"/>
<circle cx="78.19" cy="294.97" r="1.15" fill="#000"/>
<circle cx="80.04" cy="286.06" r="1.15" fill="#000"/>
<circle cx="69.39" cy="290.00" r="1.15" fill="#000"/>
<circle cx="92.55" cy="290.00" r="1.15" fill="#000"/>
<circle cx="86.65" cy="291.11" r="1.15" fill="#000"/>
<circle cx="99.08" cy="292.65" r="1.15" fill="#000"/>
<circle cx="72.24" cy="296.64" r="1.15" fill="#000"/>
<circle cx="84.84" cy="292.81" r="1.15" fill="#000"/>
<circle cx="95.84" cy="283.92" r="1.15" fill="#000"/>
<circle cx="91.08" cy="284.14" r="1.15" fill="#000"/>
<circle cx="100.63" cy="294.66" r="1.15" fill="#000"/>
<circle cx="91.70" cy="283.45" r="1.15" fill="#000"/>
<circle cx="89.41" cy="299.94" r="1.15" fill="#000"/>
<circle cx="70.56" cy="285.19" r="1.15" fill="#000"/>
<circle cx="73.01" cy="293.28" r="1.15" fill="#000"/>
<circle cx="77.08" cy="299.35" r="1.15" fill="#000"/>
<circle cx="74.09" cy="294.45" r="1.15" fill="#000"/>
<circle cx="97.01" cy="300.42" r="1.15" fill="#000"/>
<circle cx="90.53" cy="296.12" r="1.15" fill="#000"/>
<circle cx="78.30" cy="289.06" r="1.15" fill="#000"/>
<circle cx="83.69" cy="294.60" r="1.15" fill="#000"/>
<circle cx="77.33" cy="293.76" r="1.15" fill="#000"/>
<circle cx="99.96" cy="295.72" r="1.15" fill="#000"/>
<circle cx="76.72" cy="297.81" r="1.15" fill="#000"/>
<circle cx="100.09" cy="288.64" r="1.15" fill="#000"/>
<circle cx="68.83" cy="287.84" r="1.15" fill="#000"/>
<circle cx="81.16" cy="295.51" r="1.15" fill="#000"/>
<circle cx="75.31" cy="282.65" r="1.15" fill="#000"/>
<circle cx="85.15" cy="291.18" r="1.15" fill="#000"/>
<circle cx="71.71" cy="294.93" r="1.15" fill="#000"/>
<circle cx="81.74" cy="290.15" r="1.15" fill="#000"/>
<circle cx="78.66" cy="291.30" r="1.15" fill="#000"/>
<circle cx="76.34" cy="290.35" r="1.15" fill="#000"/>
<circle cx="93.12" cy="283.36" r="1.15" fill="#000"/>
<circle cx="90.10" cy="286.04" r="1.15" fill="#000"/>
<circle cx="81.42" cy="287.25" r="1.15" fill="#000"/>
<circle cx="79.37" cy="277.34" r="1.15" fill="#000"/>
<circle cx="92.26" cy="293.57" r="1.15" fill="#000"/>
<circle cx="89.64" cy="289.66" r="1.15" fill="#000"/>
<circle cx="97.70" cy="301.52" r="1.15" fill="#000"/>
<circle cx="89.13" cy="293.25" r="1.15" fill="#000"/>
<circle cx="73.31" cy="288.83" r="1.15" fill="#000"/>
<circle cx="85.77" cy="278.54" r="1.15" fill="#000"/>
<circle cx="94.87" cy="278.05" r="1.15" fill="#000"/>
<circle cx="95.58" cy="289.67" r="1.15" fill="#000"/>
<circle cx="90.93" cy="278.50" r="1.15" fill="#000"/>
<circle cx="91.26" cy="283.29" r="1.15" fill="#000"/>
<circle cx="73.11" cy="290.20" r="1.15" fill="#000"/>
<circle cx="80.49" cy="291.57" r="1.15" fill="#000"/>
<circle cx="86.90" cy="299.47" r="1.15" fill="#000"/>
<circle cx="89.14" cy="297.34" r="1.15" fill="#000"/>
<circle cx="84.65" cy="283.32" r="1.15" fill="#000"/>
<circle cx="68.91" cy="283.22" r="1.15" fill="#000"/>
<circle cx="85.10" cy="293.09" r="1.15" fill="#000"/>
<circle cx="86.14" cy="280.00" r="1.15" fill="#000"/>
<circle cx="92.67" cy="288.74" r="1.15" fill="#000"/>
<circle cx="76.97" cy="288.04" r="1.15" fill="#000"/>
<circle cx="92.43" cy="294.42" r="1.15" fill="#000"/>
<circle cx="75.45" cy="292.23" r="1.15" fill="#000"/>
<circle cx="84.80" cy="288.90" r="1.15" fill="#000"/>
<circle cx="81.19" cy="272.85" r="1.15" fill="#000"/>
<circle cx="93.65" cy="280.52" r="1.15" fill="#000"/>
<circle cx="88.79" cy="291.26" r="1.15" fill="#000"/>
<circle cx="73.58" cy="288.42" r="1.15" fill="#000"/>
<circle cx="77.03" cy="288.02" r="1.15" fill="#000"/>
<circle cx="87.20" cy="289.77" r="1.15" fill="#000"/>
<circle cx="69.20" cy="284.64" r="1.15" fill="#000"/>
<circle cx="90.57" cy="294.63" r="1.15" fill="#000"/>
<circle cx="91.23" cy="291.85" r="1.15" fill="#000"/>
<circle cx="85.54" cy="287.65" r="1.15" fill="#000"/>
<circle cx="83.86" cy="285.34" r="1.15" fill="#000"/>
<circle cx="97.75" cy="286.91" r="1.15" fill="#000"/>
<circle cx="75.26" cy="290.66" r="1.15" fill="#000"/>
<circle cx="69.37" cy="304.64" r="1.15" fill="#000"/>
<circle cx="83.67" cy="287.97" r="1.15" fill="#000"/>
<circle cx="83.36" cy="297.03" r="1.15" fill="#000"/>
<circle cx="77.50" cy="275.03" r="1.15" fill="#000"/>
<circle cx="75.63" cy="293.80" r="1.15" fill="#000"/>
<circle cx="87.64" cy="304.72" r="1.15" fill="#000"/>
<circle cx="99.67" cy="294.83" r="1.15" fill="#000"/>
<circle cx="73.10" cy="295.97" r="1.15" fill="#000"/>
<circle cx="97.53" cy="293.21" r="1.15" fill="#000"/>
<circle cx="91.59" cy="283.21" r="1.15" fill="#000"/>
<circle cx="84.55" cy="291.57" r="1.15" fill="#000"/>
<circle cx="69.60" cy="303.36" r="1.15" fill="#000"/>
<circle cx="83.40" cy="297.33" r="1.15" fill="#000"/>
<circle cx="78.58" cy="290.17" r="1.15" fill="#000"/>
<circle cx="79.04" cy="293.67" r="1.15" fill="#000"/>
<circle cx="96.02" cy="294.47" r="1.15" fill="#000"/>
<circle cx="95.99" cy="300.50" r="1.15" fill="#000"/>
<circle cx="72.69" cy="290.11" r="1.15" fill="#000"/>
<circle cx="98.01" cy="298.91" r="1.15" fill="#000"/>
<circle cx="78.19" cy="285.56" r="1.15" fill="#000"/>
<circle cx="101.16" cy="285.63" r="1.15" fill="#000"/>
<circle cx="87.89" cy="294.53" r="1.15" fill="#000"/>
<circle cx="77.72" cy="285.73" r="1.15" fill="#000"/>
<circle cx="70.36" cy="295.11" r="1.15" fill="#000"/>
<circle cx="78.05" cy="299.59" r="1.15" fill="#000"/>
<circle cx="99.11" cy="297.13" r="1.15" fill="#000"/>
<circle cx="85.36" cy="290.02" r="1.15" fill="#000"/>
<circle cx="74.95" cy="294.95" r="1.15" fill="#000"/>
<circle cx="97.45" cy="278.98" r="1.15" fill="#000"/>
<circle cx="95.11" cy="301.26" r="1.15" fill="#000"/>
<circle cx="99.28" cy="280.52" r="1.15" fill="#000"/>
<circle cx="86.59" cy="279.79" r="1.15" fill="#000"/>
<circle cx="92.53" cy="289.62" r="1.15" fill="#000"/>
<circle cx="83.41" cy="288.03" r="1.15" fill="#000"/>
<circle cx="78.07" cy="290.15" r="1.15" fill="#000"/>
<circle cx="70.39" cy="280.94" r="1.15" fill="#000"/>
<circle cx="84.10" cy="292.95" r="1.15" fill="#000"/>
<circle cx="79.93" cy="288.54" r="1.15" fill="#000"/>
<circle cx="100.43" cy="286.95" r="1.15" fill="#000"/>
<circle cx="77.23" cy="299.86" r="1.15" fill="#000"/>
<circle cx="86.86" cy="287.03" r="1.15" fill="#000"/>
<circle cx="81.58" cy="285.57" r="1.15" fill="#000"/>
<circle cx="75.54" cy="291.86" r="1.15" fill="#000"/>
<circle cx="98.15" cy="293.25" r="1.15" fill="#000"/>
<circle cx="98.16" cy="285.56" r="1.15" fill="#000"/>
<circle cx="101.09" cy="290.08" r="1.15" fill="#000"/>
<circle cx="75.03" cy="286.71" r="1.15" fill="#000"/>
<circle cx="71.74" cy="291.07" r="1.15" fill="#000"/>
<circle cx="76.55" cy="288.50" r="1.15" fill="#000"/>
<circle cx="77.17" cy="292.31" r="1.15" fill="#000"/>
<circle cx="93.09" cy="278.08" r="1.15" fill="#000"/>
<circle cx="82.17" cy="284.42" r="1.15" fill="#000"/>
<circle cx="81.01" cy="283.42" r="1.15" fill="#000"/>
<circle cx="79.76" cy="293.95" r="1.15" fill="#000"/>
<circle cx="100.15" cy="294.70" r="1.15" fill="#000"/>
<circle cx="72.88" cy="291.93" r="1.15" fill="#000"/>
<circle cx="96.76" cy="281.12" r="1.15" fill="#000"/>
<circle cx="75.80" cy="289.81" r="1.15" fill="#000"/>
<circle cx="81.75" cy="289.37" r="1.15" fill="#000"/>
<circle cx="83.25" cy="294.72" r="1.15" fill="#000"/>
<circle cx="97.08" cy="301.73" r="1.15" fill="#000"/>
<circle cx="69.51" cy="286.51" r="1.15" fill="#000"/>
<circle cx="97.82" cy="299.70" r="1.15" fill="#000"/>
<circle cx="84.13" cy="291.99" r="1.15" fill="#000"/>
<circle cx="81.49" cy="289.90" r="1.15" fill="#000"/>
<circle cx="98.83" cy="289.94" r="1.15" fill="#000"/>
<circle cx="100.30" cy="295.67" r="1.15" fill="#000"/>
<circle cx="76.85" cy="278.98" r="1.15" fill="#000"/>
<circle cx="85.72" cy="292.83" r="1.15" fill="#000"/>
<circle cx="90.90" cy="292.31" r="1.15" fill="#000"/>
<circle cx="89.77" cy="299.40" r="1.15" fill="#000"/>
<circle cx="93.58" cy="286.38" r="1.15" fill="#000"/>
<circle cx="70.08" cy="282.31" r="1.15" fill="#000"/>
<circle cx="94.15" cy="292.11" r="1.15" fill="#000"/>
<circle cx="89.71" cy="291.55" r="1.15" fill="#000"/>
<circle cx="78.64" cy="304.07" r="1.15" fill="#000"/>
<circle cx="89.42" cy="293.33" r="1.15" fill="#000"/>
<circle cx="91.43" cy="293.46" r="1.15" fill="#000"/>
<circle cx="85.79" cy="291.83" r="1.15" fill="#000"/>
<circle cx="87.69" cy="291.56" r="1.15" fill="#000"/>
<circle cx="88.27" cy="286.58" r="1.15" fill="#000"/>
<circle cx="69.14" cy="292.90" r="1.15" fill="#000"/>
<circle cx="99.87" cy="287.77" r="1.15" fill="#000"/>
<circle cx="89.68" cy="296.64" r="1.15" fill="#000"/>
<circle cx="76.41" cy="295.33" r="1.15" fill="#000"/>
<circle cx="76.80" cy="285.23" r="1.15" fill="#000"/>
<circle cx="78.76" cy="299.54" r="1.15" fill="#000"/>
<circle cx="69.51" cy="287.59" r="1.15" fill="#000"/>
<circle cx="82.41" cy="280.56" r="1.15" fill="#000"/>
<circle cx="77.14" cy="290.10" r="1.15" fill="#000"/>
<circle cx="76.15" cy="282.88" r="1.15" fill="#000"/>
<circle cx="69.90" cy="277.55" r="1.15" fill="#000"/>
<circle cx="90.92" cy="286.54" r="1.15" fill="#000"/>
<circle cx="75.22" cy="295.60" r="1.15" fill="#000"/>
<circle cx="85.16" cy="293.01" r="1.15" fill="#000"/>
<circle cx="75.45" cy="280.12" r="1.15" fill="#000"/>
<circle cx="95.37" cy="295.35" r="1.15" fill="#000"/>
<circle cx="76.28" cy="288.97" r="1.15" fill="#000"/>
<circle cx="78.36" cy="291.90" r="1.15" fill="#000"/>
<circle cx="99.64" cy="300.48" r="1.15" fill="#000"/>
<circle cx="76.04" cy="285.94" r="1.15" fill="#000"/>
<circle cx="82.31" cy="290.11" r="1.15" fill="#000"/>
<circle cx="73.54" cy="282.21" r="1.15" fill="#000"/>
<circle cx="81.55" cy="276.77" r="1.15" fill="#000"/>
<circle cx="73.40" cy="293.93" r="1.15" fill="#000"/>
<circle cx="70.48" cy="306.57" r="1.15" fill="#000"/>
<circle cx="97.90" cy="295.85" r="1.15" fill="#000"/>
<circle cx="97.43" cy="292.32" r="1.15" fill="#000"/>
<circle cx="98.98" cy="287.63" r="1.15" fill="#000"/>
<circle cx="79.47" cy="268.30" r="1.15" fill="#000"/>
<circle cx="92.98" cy="295.82" r="1.15" fill="#000"/>
<circle cx="69.83" cy="303.57" r="1.15" fill="#000"/>
<circle cx="80.91" cy="286.85" r="1.15" fill="#000"/>
<circle cx="79.55" cy="284.72" r="1.15" fill="#000"/>
<circle cx="77.87" cy="290.23" r="1.15" fill="#000"/>
<circle cx="80.19" cy="290.42" r="1.15" fill="#000"/>
<circle cx="100.04" cy="293.11" r="1.15" fill="#000"/>
<circle cx="75.52" cy="289.11" r="1.15" fill="#000"/>
<circle cx="95.43" cy="282.74" r="1.15" fill="#000"/>
<circle cx="82.81" cy="299.17" r="1.15" fill="#000"/>
<circle cx="80.88" cy="296.80" r="1.15" fill="#000"/>
<circle cx="98.59" cy="292.17" r="1.15" fill="#000"/>
<circle cx="97.86" cy="292.10" r="1.15" fill="#000"/>
<circle cx="69.78" cy="295.62" r="1.15" fill="#000"/>
<circle cx="93.64" cy="280.25" r="1.15" fill="#000"/>
<circle cx="70.12" cy="296.12" r="1.15" fill="#000"/>
<circle cx="98.61" cy="292.21" r="1.15" fill="#000"/>
<circle cx="77.13" cy="290.49" r="1.15" fill="#000"/>
<circle cx="79.79" cy="289.77" r="1.15" fill="#000"/>
<circle cx="77.62" cy="276.52" r="1.15" fill="#000"/>
<circle cx="77.29" cy="298.42" r="1.15" fill="#000"/>
<circle cx="92.02" cy="287.71" r="1.15" fill="#000"/>
<circle cx="68.92" cy="287.95" r="1.15" fill="#000"/>
<circle cx="93.28" cy="294.62" r="1.15" fill="#000"/>
<circle cx="99.36" cy="297.73" r="1.15" fill="#000"/>
<circle cx="69.59" cy="285.52" r="1.15" fill="#000"/>
<circle cx="99.80" cy="290.72" r="1.15" fill="#000"/>
<circle cx="99.71" cy="297.12" r="1.15" fill="#000"/>
<circle cx="82.73" cy="286.38" r="1.15" fill="#000"/>
<circle cx="84.79" cy="293.13" r="1.15" fill="#000"/>
<circle cx="94.80" cy="293.60" r="1.15" fill="#000"/>
<circle cx="92.73" cy="288.25" r="1.15" fill="#000"/>
<circle cx="88.48" cy="295.12" r="1.15" fill="#000"/>
<circle cx="79.42" cy="267.46" r="1.15" fill="#000"/>
<circle cx="94.14" cy="281.19" r="1.15" fill="#000"/>
<circle cx="71.36" cy="296.31" r="1.15" fill="#000"/>
<circle cx="76.81" cy="292.52" r="1.15" fill="#000"/>
<circle cx="70.90" cy="304.98" r="1.15" fill="#000"/>
<circle cx="79.35" cy="300.88" r="1.15" fill="#000"/>
<circle cx="100.56" cy="289.21" r="1.15" fill="#000"/>
<circle cx="77.38" cy="312.50" r="1.15" fill="#000"/>
<circle cx="71.52" cy="262.18" r="1.15" fill="#000"/>
<circle cx="91.80" cy="297.59" r="1.15" fill="#000"/>
<circle cx="83.28" cy="294.03" r="1.15" fill="#000"/>
<circle cx="88.90" cy="287.24" r="1.15" fill="#000"/>
<circle cx="90.64" cy="298.40" r="1.15" fill="#000"/>
<circle cx="90.33" cy="285.70" r="1.15" fill="#000"/>
<circle cx="72.73" cy="262.75" r="1.15" fill="#000"/>
<circle cx="87.17" cy="291.41" r="1.15" fill="#000"/>
<circle cx="80.88" cy="277.58" r="1.15" fill="#000"/>
<circle cx="76.82" cy="285.40" r="1.15" fill="#000"/>
<circle cx="76.75" cy="278.02" r="1.15" fill="#000"/>
<circle cx="87.54" cy="300.22" r="1.15" fill="#000"/>
<circle cx="79.37" cy="306.46" r="1.15" fill="#000"/>
<circle cx="85.24" cy="256.21" r="1.15" fill="#000"/>
<circle cx="76.30" cy="308.79" r="1.15" fill="#000"/>
<circle cx="100.91" cy="292.27" r="1.15" fill="#000"/>
<circle cx="72.12" cy="269.70" r="1.15" fill="#000"/>
<circle cx="96.03" cy="264.09" r="1.15" fill="#000"/>
<circle cx="98.43" cy="289.50" r="1.15" fill="#000"/>
<circle cx="72.66" cy="295.69" r="1.15" fill="#000"/>
<circle cx="74.94" cy="288.51" r="1.15" fill="#000"/>
<circle cx="98.94" cy="301.65" r="1.15" fill="#000"/>
<circle cx="80.86" cy="283.32" r="1.15" fill="#000"/>
<circle cx="77.22" cy="294.74" r="1.15" fill="#000"/>
<circle cx="94.00" cy="276.23" r="1.15" fill="#000"/>
<circle cx="88.12" cy="291.35" r="1.15" fill="#000"/>
<circle cx="88.89" cy="284.10" r="1.15" fill="#000"/>
<circle cx="73.38" cy="288.32" r="1.15" fill="#000"/>
<circle cx="75.41" cy="297.27" r="1.15" fill="#000"/>
<circle cx="89.91" cy="285.50" r="1.15" fill="#000"/>
<circle cx="75.39" cy="302.22" r="1.15" fill="#000"/>
<circle cx="90.78" cy="296.66" r="1.15" fill="#000"/>
<circle cx="74.80" cy="286.76" r="1.15" fill="#000"/>
<circle cx="94.57" cy="282.92" r="1.15" fill="#000"/>
<circle cx="86.56" cy="293.48" r="1.15" fill="#000"/>
<circle cx="81.61" cy="291.12" r="1.15" fill="#000"/>
<circle cx="73.60" cy="211.30" r="1.15" fill="#000"/>
<circle cx="87.70" cy="224.00" r="1.15" fill="#000"/>
<circle cx="74.90" cy="227.40" r="1.15" fill="#000"/>
<circle cx="86.50" cy="236.20" r="1.15" fill="#000"/>
<circle cx="75.40" cy="243.10" r="1.15" fill="#000"/>
<circle cx="87.00" cy="245.90" r="1.15" fill="#000"/>
<circle cx="91.00" cy="250.00" r="1.15" fill="#000"/>
<circle cx="94.80" cy="249.80" r="1.15" fill="#000"/>
<circle cx="71.60" cy="253.10" r="1.15" fill="#000"/>
<circle cx="86.00" cy="258.00" r="1.15" fill="#000"/>
<circle cx="86.80" cy="257.70" r="1.15" fill="#000"/>
<circle cx="96.50" cy="257.20" r="1.15" fill="#000"/>
<circle cx="75.20" cy="261.90" r="1.15" fill="#000"/>
<circle cx="91.80" cy="260.90" r="1.15" fill="#000"/>
<circle cx="76.00" cy="265.90" r="1.15" fill="#000"/>
<circle cx="71.90" cy="269.40" r="1.15" fill="#000"/>
<circle cx="85.20" cy="268.00" r="1.15" fill="#000"/>
<circle cx="91.00" cy="269.80" r="1.15" fill="#000"/>
<circle cx="97.80" cy="268.70" r="1.15" fill="#000"/>
<circle cx="69.80" cy="308.00" r="1.15" fill="#000"/>
<circle cx="72.10" cy="308.00" r="1.15" fill="#000"/>
<circle cx="75.70" cy="309.60" r="1.15" fill="#000"/>
<circle cx="81.40" cy="309.30" r="1.15" fill="#000"/>
<circle cx="86.80" cy="307.90" r="1.15" fill="#000"/>
<circle cx="84.10" cy="313.80" r="1.15" fill="#000"/>
<circle cx="77.90" cy="316.10" r="1.15" fill="#000"/>
<circle cx="93.90" cy="316.40" r="1.15" fill="#000"/>
<circle cx="97.10" cy="313.40" r="1.15" fill="#000"/>
<circle cx="98.90" cy="311.60" r="1.15" fill="#000"/>
<circle cx="98.90" cy="316.10" r="1.15" fill="#000"/>
<circle cx="93.60" cy="335.70" r="1.15" fill="#000"/>
<circle cx="76.40" cy="343.60" r="1.15" fill="#000"/>
<circle cx="95.00" cy="357.50" r="1.15" fill="#000"/>
<circle cx="164.60" cy="255.90" r="1.15" fill="#000"/>
<circle cx="164.10" cy="261.60" r="1.15" fill="#000"/>
<circle cx="153.40" cy="267.90" r="1.15" fill="#000"/>
<circle cx="152.90" cy="274.50" r="1.15" fill="#000"/>
<circle cx="155.70" cy="273.20" r="1.15" fill="#000"/>
<circle cx="160.00" cy="271.80" r="1.15" fill="#000"/>
<circle cx="146.30" cy="277.70" r="1.15" fill="#000"/>
<circle cx="149.80" cy="279.80" r="1.15" fill="#000"/>
<circle cx="165.00" cy="276.80" r="1.15" fill="#000"/>
<circle cx="169.50" cy="277.30" r="1.15" fill="#000"/>
<circle cx="174.80" cy="278.60" r="1.15" fill="#000"/>
<circle cx="166.80" cy="280.70" r="1.15" fill="#000"/>
<circle cx="171.80" cy="281.30" r="1.15" fill="#000"/>
<circle cx="147.10" cy="282.10" r="1.15" fill="#000"/>
<circle cx="157.90" cy="283.00" r="1.15" fill="#000"/>
<circle cx="166.80" cy="283.60" r="1.15" fill="#000"/>
<circle cx="168.60" cy="283.90" r="1.15" fill="#000"/>
<circle cx="146.30" cy="287.10" r="1.15" fill="#000"/>
<circle cx="149.80" cy="288.40" r="1.15" fill="#000"/>
<circle cx="161.00" cy="287.10" r="1.15" fill="#000"/>
<circle cx="164.60" cy="288.40" r="1.15" fill="#000"/>
<circle cx="167.70" cy="286.60" r="1.15" fill="#000"/>
<circle cx="169.50" cy="287.90" r="1.15" fill="#000"/>
<circle cx="172.10" cy="287.50" r="1.15" fill="#000"/>
<circle cx="147.10" cy="290.20" r="1.15" fill="#000"/>
<circle cx="167.70" cy="292.00" r="1.15" fill="#000"/>
<circle cx="172.10" cy="289.60" r="1.15" fill="#000"/>
<circle cx="167.70" cy="296.10" r="1.15" fill="#000"/>
<circle cx="159.30" cy="300.00" r="1.15" fill="#000"/>
<circle cx="160.00" cy="301.80" r="1.15" fill="#000"/>
<circle cx="146.30" cy="300.90" r="1.15" fill="#000"/>
<circle cx="148.90" cy="302.30" r="1.15" fill="#000"/>
<circle cx="160.50" cy="311.80" r="1.15" fill="#000"/>
<circle cx="165.00" cy="282.10" r="1.15" fill="#000"/>
<circle cx="150.70" cy="285.70" r="1.15" fill="#000"/>
<text x="220.80" y="190.70" font-size="11.5" text-anchor="start" font-weight="bold" fill="#000" stroke="#000" stroke-width="0.45">D</text>
<rect x="235.30" y="241.88" width="4.50" height="4.12" fill="#2C4B8A" stroke="#9FB0D0" stroke-width="0.5"/>
<rect x="235.30" y="246.30" width="4.50" height="10.38" fill="#E38C15" stroke="#F5C98A" stroke-width="0.5"/>
<text x="0.00" y="0.00" font-size="6.3" text-anchor="end" font-weight="normal" fill="#222" stroke="#222" stroke-width="0.14" transform="translate(239.75,340.80) rotate(-90) scale(0.95,1)">ACTG1</text>
<rect x="240.79" y="241.88" width="4.50" height="4.12" fill="#2C4B8A" stroke="#9FB0D0" stroke-width="0.5"/>
<rect x="240.79" y="246.30" width="4.50" height="10.38" fill="#E38C15" stroke="#F5C98A" stroke-width="0.5"/>
<text x="0.00" y="0.00" font-size="6.3" text-anchor="end" font-weight="normal" fill="#222" stroke="#222" stroke-width="0.14" transform="translate(245.24,340.80) rotate(-90) scale(0.95,1)">BHLHE41</text>
<rect x="246.28" y="241.88" width="4.50" height="4.12" fill="#2C4B8A" stroke="#9FB0D0" stroke-width="0.5"/>
<rect x="246.28" y="246.30" width="4.50" height="10.38" fill="#E38C15" stroke="#F5C98A" stroke-width="0.5"/>
<text x="0.00" y="0.00" font-size="6.3" text-anchor="end" font-weight="normal" fill="#222" stroke="#222" stroke-width="0.14" transform="translate(250.73,340.80) rotate(-90) scale(0.95,1)">BIRC3</text>
<rect x="251.77" y="241.88" width="4.50" height="4.12" fill="#2C4B8A" stroke="#9FB0D0" stroke-width="0.5"/>
<rect x="251.77" y="246.30" width="4.50" height="10.38" fill="#E38C15" stroke="#F5C98A" stroke-width="0.5"/>
<text x="0.00" y="0.00" font-size="6.3" text-anchor="end" font-weight="normal" fill="#222" stroke="#222" stroke-width="0.14" transform="translate(256.22,340.80) rotate(-90) scale(0.95,1)">CDK4</text>
<rect x="257.26" y="241.88" width="4.50" height="4.12" fill="#2C4B8A" stroke="#9FB0D0" stroke-width="0.5"/>
<rect x="257.26" y="246.30" width="4.50" height="10.38" fill="#E38C15" stroke="#F5C98A" stroke-width="0.5"/>
<text x="0.00" y="0.00" font-size="6.3" text-anchor="end" font-weight="normal" fill="#222" stroke="#222" stroke-width="0.14" transform="translate(261.71,340.80) rotate(-90) scale(0.95,1)">CYLD</text>
<rect x="262.75" y="241.88" width="4.50" height="4.12" fill="#2C4B8A" stroke="#9FB0D0" stroke-width="0.5"/>
<rect x="262.75" y="246.30" width="4.50" height="10.38" fill="#E38C15" stroke="#F5C98A" stroke-width="0.5"/>
<text x="0.00" y="0.00" font-size="6.3" text-anchor="end" font-weight="normal" fill="#222" stroke="#222" stroke-width="0.14" transform="translate(267.20,340.80) rotate(-90) scale(0.95,1)">FAT3</text>
<rect x="268.24" y="241.88" width="4.50" height="4.12" fill="#2C4B8A" stroke="#9FB0D0" stroke-width="0.5"/>
<rect x="268.24" y="246.30" width="4.50" height="10.38" fill="#E38C15" stroke="#F5C98A" stroke-width="0.5"/>
<text x="0.00" y="0.00" font-size="6.3" text-anchor="end" font-weight="normal" fill="#222" stroke="#222" stroke-width="0.14" transform="translate(272.69,340.80) rotate(-90) scale(0.95,1)">FUBP1</text>
<rect x="273.73" y="241.88" width="4.50" height="4.12" fill="#2C4B8A" stroke="#9FB0D0" stroke-width="0.5"/>
<rect x="273.73" y="246.30" width="4.50" height="10.38" fill="#E38C15" stroke="#F5C98A" stroke-width="0.5"/>
<text x="0.00" y="0.00" font-size="6.3" text-anchor="end" font-weight="normal" fill="#222" stroke="#222" stroke-width="0.14" transform="translate(278.18,340.80) rotate(-90) scale(0.95,1)">HIST1H1E</text>
<rect x="279.22" y="241.88" width="4.50" height="4.12" fill="#2C4B8A" stroke="#9FB0D0" stroke-width="0.5"/>
<rect x="279.22" y="246.30" width="4.50" height="10.38" fill="#E38C15" stroke="#F5C98A" stroke-width="0.5"/>
<text x="0.00" y="0.00" font-size="6.3" text-anchor="end" font-weight="normal" fill="#222" stroke="#222" stroke-width="0.14" transform="translate(283.67,340.80) rotate(-90) scale(0.95,1)">IDH1</text>
<rect x="284.71" y="241.88" width="4.50" height="4.12" fill="#2C4B8A" stroke="#9FB0D0" stroke-width="0.5"/>
<rect x="284.71" y="246.30" width="4.50" height="10.38" fill="#E38C15" stroke="#F5C98A" stroke-width="0.5"/>
<text x="0.00" y="0.00" font-size="6.3" text-anchor="end" font-weight="normal" fill="#222" stroke="#222" stroke-width="0.14" transform="translate(289.16,340.80) rotate(-90) scale(0.95,1)">IGF1R</text>
<rect x="290.20" y="241.88" width="4.50" height="4.12" fill="#2C4B8A" stroke="#9FB0D0" stroke-width="0.5"/>
<rect x="290.20" y="246.30" width="4.50" height="10.38" fill="#E38C15" stroke="#F5C98A" stroke-width="0.5"/>
<text x="0.00" y="0.00" font-size="6.3" text-anchor="end" font-weight="normal" fill="#222" stroke="#222" stroke-width="0.14" transform="translate(294.65,340.80) rotate(-90) scale(0.95,1)">IKZF3</text>
<rect x="295.69" y="241.88" width="4.50" height="4.12" fill="#2C4B8A" stroke="#9FB0D0" stroke-width="0.5"/>
<rect x="295.69" y="246.30" width="4.50" height="10.38" fill="#E38C15" stroke="#F5C98A" stroke-width="0.5"/>
<text x="0.00" y="0.00" font-size="6.3" text-anchor="end" font-weight="normal" fill="#222" stroke="#222" stroke-width="0.14" transform="translate(300.14,340.80) rotate(-90) scale(0.95,1)">NFKBIA</text>
<rect x="301.18" y="241.88" width="4.50" height="4.12" fill="#2C4B8A" stroke="#9FB0D0" stroke-width="0.5"/>
<rect x="301.18" y="246.30" width="4.50" height="10.38" fill="#E38C15" stroke="#F5C98A" stroke-width="0.5"/>
<text x="0.00" y="0.00" font-size="6.3" text-anchor="end" font-weight="normal" fill="#222" stroke="#222" stroke-width="0.14" transform="translate(305.63,340.80) rotate(-90) scale(0.95,1)">PRKD2</text>
<rect x="306.67" y="241.88" width="4.50" height="4.12" fill="#2C4B8A" stroke="#9FB0D0" stroke-width="0.5"/>
<rect x="306.67" y="246.30" width="4.50" height="10.38" fill="#E38C15" stroke="#F5C98A" stroke-width="0.5"/>
<text x="0.00" y="0.00" font-size="6.3" text-anchor="end" font-weight="normal" fill="#222" stroke="#222" stroke-width="0.14" transform="translate(311.12,340.80) rotate(-90) scale(0.95,1)">RPL10</text>
<rect x="312.16" y="241.88" width="4.50" height="4.12" fill="#2C4B8A" stroke="#9FB0D0" stroke-width="0.5"/>
<rect x="312.16" y="246.30" width="4.50" height="10.38" fill="#E38C15" stroke="#F5C98A" stroke-width="0.5"/>
<text x="0.00" y="0.00" font-size="6.3" text-anchor="end" font-weight="normal" fill="#222" stroke="#222" stroke-width="0.14" transform="translate(316.61,340.80) rotate(-90) scale(0.95,1)">RPS3A</text>
<rect x="317.65" y="241.88" width="4.50" height="4.12" fill="#2C4B8A" stroke="#9FB0D0" stroke-width="0.5"/>
<rect x="317.65" y="246.30" width="4.50" height="10.38" fill="#E38C15" stroke="#F5C98A" stroke-width="0.5"/>
<text x="0.00" y="0.00" font-size="6.3" text-anchor="end" font-weight="normal" fill="#222" stroke="#222" stroke-width="0.14" transform="translate(322.10,340.80) rotate(-90) scale(0.95,1)">SNX7</text>
<rect x="323.14" y="241.88" width="4.50" height="4.12" fill="#2C4B8A" stroke="#9FB0D0" stroke-width="0.5"/>
<rect x="323.14" y="246.30" width="4.50" height="10.38" fill="#E38C15" stroke="#F5C98A" stroke-width="0.5"/>
<text x="0.00" y="0.00" font-size="6.3" text-anchor="end" font-weight="normal" fill="#222" stroke="#222" stroke-width="0.14" transform="translate(327.59,340.80) rotate(-90) scale(0.95,1)">TGDS</text>
<rect x="328.63" y="237.76" width="4.50" height="8.24" fill="#2C4B8A" stroke="#9FB0D0" stroke-width="0.5"/>
<rect x="328.63" y="246.30" width="4.50" height="20.75" fill="#E38C15" stroke="#F5C98A" stroke-width="0.5"/>
<text x="0.00" y="0.00" font-size="6.3" text-anchor="end" font-weight="normal" fill="#222" stroke="#222" stroke-width="0.14" transform="translate(333.08,340.80) rotate(-90) scale(0.95,1)">ARID2</text>
<rect x="334.12" y="237.76" width="4.50" height="8.24" fill="#2C4B8A" stroke="#9FB0D0" stroke-width="0.5"/>
<rect x="334.12" y="246.30" width="4.50" height="20.75" fill="#E38C15" stroke="#F5C98A" stroke-width="0.5"/>
<text x="0.00" y="0.00" font-size="6.3" text-anchor="end" font-weight="normal" fill="#222" stroke="#222" stroke-width="0.14" transform="translate(338.57,340.80) rotate(-90) scale(0.95,1)">ATR</text>
<rect x="339.61" y="237.76" width="4.50" height="8.24" fill="#2C4B8A" stroke="#9FB0D0" stroke-width="0.5"/>
<rect x="339.61" y="246.30" width="4.50" height="20.75" fill="#E38C15" stroke="#F5C98A" stroke-width="0.5"/>
<text x="0.00" y="0.00" font-size="6.3" text-anchor="end" font-weight="normal" fill="#222" stroke="#222" stroke-width="0.14" transform="translate(344.06,340.80) rotate(-90) scale(0.95,1)">BRAF</text>
<rect x="345.10" y="237.76" width="4.50" height="8.24" fill="#2C4B8A" stroke="#9FB0D0" stroke-width="0.5"/>
<rect x="345.10" y="246.30" width="4.50" height="10.38" fill="#E38C15" stroke="#F5C98A" stroke-width="0.5"/>
<text x="0.00" y="0.00" font-size="6.3" text-anchor="end" font-weight="normal" fill="#222" stroke="#222" stroke-width="0.14" transform="translate(349.55,340.80) rotate(-90) scale(0.95,1)">CCND1</text>
<rect x="350.59" y="237.76" width="4.50" height="8.24" fill="#2C4B8A" stroke="#9FB0D0" stroke-width="0.5"/>
<rect x="350.59" y="246.30" width="4.50" height="20.75" fill="#E38C15" stroke="#F5C98A" stroke-width="0.5"/>
<text x="0.00" y="0.00" font-size="6.3" text-anchor="end" font-weight="normal" fill="#222" stroke="#222" stroke-width="0.14" transform="translate(355.04,340.80) rotate(-90) scale(0.95,1)">CDKN1B</text>
<rect x="356.08" y="237.76" width="4.50" height="8.24" fill="#2C4B8A" stroke="#9FB0D0" stroke-width="0.5"/>
<rect x="356.08" y="246.30" width="4.50" height="20.75" fill="#E38C15" stroke="#F5C98A" stroke-width="0.5"/>
<text x="0.00" y="0.00" font-size="6.3" text-anchor="end" font-weight="normal" fill="#222" stroke="#222" stroke-width="0.14" transform="translate(360.53,340.80) rotate(-90) scale(0.95,1)">CRBN</text>
<rect x="361.57" y="237.76" width="4.50" height="8.24" fill="#2C4B8A" stroke="#9FB0D0" stroke-width="0.5"/>
<rect x="361.57" y="246.30" width="4.50" height="20.75" fill="#E38C15" stroke="#F5C98A" stroke-width="0.5"/>
<text x="0.00" y="0.00" font-size="6.3" text-anchor="end" font-weight="normal" fill="#222" stroke="#222" stroke-width="0.14" transform="translate(366.02,340.80) rotate(-90) scale(0.95,1)">EGR1</text>
<rect x="367.06" y="237.76" width="4.50" height="8.24" fill="#2C4B8A" stroke="#9FB0D0" stroke-width="0.5"/>
<rect x="367.06" y="246.30" width="4.50" height="20.75" fill="#E38C15" stroke="#F5C98A" stroke-width="0.5"/>
<text x="0.00" y="0.00" font-size="6.3" text-anchor="end" font-weight="normal" fill="#222" stroke="#222" stroke-width="0.14" transform="translate(371.51,340.80) rotate(-90) scale(0.95,1)">FAM46C</text>
<rect x="372.55" y="237.76" width="4.50" height="8.24" fill="#2C4B8A" stroke="#9FB0D0" stroke-width="0.5"/>
<rect x="372.55" y="246.30" width="4.50" height="20.75" fill="#E38C15" stroke="#F5C98A" stroke-width="0.5"/>
<text x="0.00" y="0.00" font-size="6.3" text-anchor="end" font-weight="normal" fill="#222" stroke="#222" stroke-width="0.14" transform="translate(377.00,340.80) rotate(-90) scale(0.95,1)">FGFR3</text>
<rect x="378.04" y="237.76" width="4.50" height="8.24" fill="#2C4B8A" stroke="#9FB0D0" stroke-width="0.5"/>
<rect x="378.04" y="246.30" width="4.50" height="20.75" fill="#E38C15" stroke="#F5C98A" stroke-width="0.5"/>
<text x="0.00" y="0.00" font-size="6.3" text-anchor="end" font-weight="normal" fill="#222" stroke="#222" stroke-width="0.14" transform="translate(382.49,340.80) rotate(-90) scale(0.95,1)">IGLL5</text>
<rect x="383.53" y="237.76" width="4.50" height="8.24" fill="#2C4B8A" stroke="#9FB0D0" stroke-width="0.5"/>
<rect x="383.53" y="246.30" width="4.50" height="20.75" fill="#E38C15" stroke="#F5C98A" stroke-width="0.5"/>
<text x="0.00" y="0.00" font-size="6.3" text-anchor="end" font-weight="normal" fill="#222" stroke="#222" stroke-width="0.14" transform="translate(387.98,340.80) rotate(-90) scale(0.95,1)">KDM6A</text>
<rect x="389.02" y="237.76" width="4.50" height="8.24" fill="#2C4B8A" stroke="#9FB0D0" stroke-width="0.5"/>
<rect x="389.02" y="246.30" width="4.50" height="20.75" fill="#E38C15" stroke="#F5C98A" stroke-width="0.5"/>
<text x="0.00" y="0.00" font-size="6.3" text-anchor="end" font-weight="normal" fill="#222" stroke="#222" stroke-width="0.14" transform="translate(393.47,340.80) rotate(-90) scale(0.95,1)">LTB</text>
<rect x="394.51" y="237.76" width="4.50" height="8.24" fill="#2C4B8A" stroke="#9FB0D0" stroke-width="0.5"/>
<rect x="394.51" y="246.30" width="4.50" height="10.38" fill="#E38C15" stroke="#F5C98A" stroke-width="0.5"/>
<text x="0.00" y="0.00" font-size="6.3" text-anchor="end" font-weight="normal" fill="#222" stroke="#222" stroke-width="0.14" transform="translate(398.96,340.80) rotate(-90) scale(0.95,1)">PIM1</text>
<rect x="400.00" y="237.76" width="4.50" height="8.24" fill="#2C4B8A" stroke="#9FB0D0" stroke-width="0.5"/>
<rect x="400.00" y="246.30" width="4.50" height="10.38" fill="#E38C15" stroke="#F5C98A" stroke-width="0.5"/>
<text x="0.00" y="0.00" font-size="6.3" text-anchor="end" font-weight="normal" fill="#222" stroke="#222" stroke-width="0.14" transform="translate(404.45,340.80) rotate(-90) scale(0.95,1)">SF3B1</text>
<rect x="405.49" y="237.76" width="4.50" height="8.24" fill="#2C4B8A" stroke="#9FB0D0" stroke-width="0.5"/>
<rect x="405.49" y="246.30" width="4.50" height="20.75" fill="#E38C15" stroke="#F5C98A" stroke-width="0.5"/>
<text x="0.00" y="0.00" font-size="6.3" text-anchor="end" font-weight="normal" fill="#222" stroke="#222" stroke-width="0.14" transform="translate(409.94,340.80) rotate(-90) scale(0.95,1)">USP29</text>
<rect x="410.98" y="233.64" width="4.50" height="12.36" fill="#2C4B8A" stroke="#9FB0D0" stroke-width="0.5"/>
<rect x="410.98" y="246.30" width="4.50" height="20.75" fill="#E38C15" stroke="#F5C98A" stroke-width="0.5"/>
<text x="0.00" y="0.00" font-size="6.3" text-anchor="end" font-weight="normal" fill="#222" stroke="#222" stroke-width="0.14" transform="translate(415.43,340.80) rotate(-90) scale(0.95,1)">ATM</text>
<rect x="416.47" y="233.64" width="4.50" height="12.36" fill="#2C4B8A" stroke="#9FB0D0" stroke-width="0.5"/>
<rect x="416.47" y="246.30" width="4.50" height="31.13" fill="#E38C15" stroke="#F5C98A" stroke-width="0.5"/>
<text x="0.00" y="0.00" font-size="6.3" text-anchor="end" font-weight="normal" fill="#222" stroke="#222" stroke-width="0.14" transform="translate(420.92,340.80) rotate(-90) scale(0.95,1)">DIS3</text>
<rect x="421.96" y="233.64" width="4.50" height="12.36" fill="#2C4B8A" stroke="#9FB0D0" stroke-width="0.5"/>
<rect x="421.96" y="246.30" width="4.50" height="31.13" fill="#E38C15" stroke="#F5C98A" stroke-width="0.5"/>
<text x="0.00" y="0.00" font-size="6.3" text-anchor="end" font-weight="normal" fill="#222" stroke="#222" stroke-width="0.14" transform="translate(426.41,340.80) rotate(-90) scale(0.95,1)">IRF4</text>
<rect x="427.45" y="221.28" width="4.50" height="24.72" fill="#2C4B8A" stroke="#9FB0D0" stroke-width="0.5"/>
<rect x="427.45" y="246.30" width="4.50" height="62.25" fill="#E38C15" stroke="#F5C98A" stroke-width="0.5"/>
<text x="0.00" y="0.00" font-size="6.3" text-anchor="end" font-weight="normal" fill="#222" stroke="#222" stroke-width="0.14" transform="translate(431.90,340.80) rotate(-90) scale(0.95,1)">* NRAS</text>
<rect x="432.94" y="208.92" width="4.50" height="37.08" fill="#2C4B8A" stroke="#9FB0D0" stroke-width="0.5"/>
<rect x="432.94" y="246.30" width="4.50" height="83.00" fill="#E38C15" stroke="#F5C98A" stroke-width="0.5"/>
<text x="0.00" y="0.00" font-size="6.3" text-anchor="end" font-weight="normal" fill="#222" stroke="#222" stroke-width="0.14" transform="translate(437.39,340.80) rotate(-90) scale(0.95,1)">* KRAS</text>
<rect x="438.43" y="204.80" width="4.50" height="41.20" fill="#2C4B8A" stroke="#9FB0D0" stroke-width="0.5"/>
<rect x="438.43" y="246.30" width="4.50" height="72.62" fill="#E38C15" stroke="#F5C98A" stroke-width="0.5"/>
<text x="0.00" y="0.00" font-size="6.3" text-anchor="end" font-weight="normal" fill="#222" stroke="#222" stroke-width="0.14" transform="translate(442.88,340.80) rotate(-90) scale(0.95,1)">* TP53</text>
<polyline points="234.0,196.1 443.7,196.1 443.7,337.5 234.0,337.5 234.0,196.1" fill="none" stroke="#3a3a3a" stroke-width="1.5"/>
<line x1="231.00" y1="246.00" x2="234.00" y2="246.00" stroke="#2a2a2a" stroke-width="1.1"/>
<text x="228.30" y="248.20" font-size="6.3" text-anchor="end" font-weight="normal" fill="#333" stroke="#333" stroke-width="0.2">0</text>
<line x1="443.70" y1="246.00" x2="446.80" y2="246.00" stroke="#2a2a2a" stroke-width="1.1"/>
<text x="450.50" y="248.20" font-size="6.3" text-anchor="start" font-weight="normal" fill="#333" stroke="#333" stroke-width="0.2">0</text>
<line x1="231.00" y1="225.40" x2="234.00" y2="225.40" stroke="#2a2a2a" stroke-width="1.1"/>
<text x="228.30" y="227.60" font-size="6.3" text-anchor="end" font-weight="normal" fill="#333" stroke="#333" stroke-width="0.2">5</text>
<line x1="443.70" y1="225.40" x2="446.80" y2="225.40" stroke="#2a2a2a" stroke-width="1.1"/>
<text x="450.50" y="227.60" font-size="6.3" text-anchor="start" font-weight="normal" fill="#333" stroke="#333" stroke-width="0.2">5</text>
<line x1="231.00" y1="204.80" x2="234.00" y2="204.80" stroke="#2a2a2a" stroke-width="1.1"/>
<text x="228.30" y="207.00" font-size="6.3" text-anchor="end" font-weight="normal" fill="#333" stroke="#333" stroke-width="0.2">10</text>
<line x1="443.70" y1="204.80" x2="446.80" y2="204.80" stroke="#2a2a2a" stroke-width="1.1"/>
<text x="450.50" y="207.00" font-size="6.3" text-anchor="start" font-weight="normal" fill="#333" stroke="#333" stroke-width="0.2">10</text>
<line x1="231.00" y1="266.75" x2="234.00" y2="266.75" stroke="#2a2a2a" stroke-width="1.1"/>
<text x="228.30" y="268.95" font-size="6.3" text-anchor="end" font-weight="normal" fill="#333" stroke="#333" stroke-width="0.2">5</text>
<line x1="443.70" y1="266.75" x2="446.80" y2="266.75" stroke="#2a2a2a" stroke-width="1.1"/>
<text x="450.50" y="268.95" font-size="6.3" text-anchor="start" font-weight="normal" fill="#333" stroke="#333" stroke-width="0.2">5</text>
<line x1="231.00" y1="287.50" x2="234.00" y2="287.50" stroke="#2a2a2a" stroke-width="1.1"/>
<text x="228.30" y="289.70" font-size="6.3" text-anchor="end" font-weight="normal" fill="#333" stroke="#333" stroke-width="0.2">10</text>
<line x1="443.70" y1="287.50" x2="446.80" y2="287.50" stroke="#2a2a2a" stroke-width="1.1"/>
<text x="450.50" y="289.70" font-size="6.3" text-anchor="start" font-weight="normal" fill="#333" stroke="#333" stroke-width="0.2">10</text>
<line x1="231.00" y1="308.25" x2="234.00" y2="308.25" stroke="#2a2a2a" stroke-width="1.1"/>
<text x="228.30" y="310.45" font-size="6.3" text-anchor="end" font-weight="normal" fill="#333" stroke="#333" stroke-width="0.2">15</text>
<line x1="443.70" y1="308.25" x2="446.80" y2="308.25" stroke="#2a2a2a" stroke-width="1.1"/>
<text x="450.50" y="310.45" font-size="6.3" text-anchor="start" font-weight="normal" fill="#333" stroke="#333" stroke-width="0.2">15</text>
<line x1="231.00" y1="329.00" x2="234.00" y2="329.00" stroke="#2a2a2a" stroke-width="1.1"/>
<text x="228.30" y="331.20" font-size="6.3" text-anchor="end" font-weight="normal" fill="#333" stroke="#333" stroke-width="0.2">20</text>
<line x1="443.70" y1="329.00" x2="446.80" y2="329.00" stroke="#2a2a2a" stroke-width="1.1"/>
<text x="450.50" y="331.20" font-size="6.3" text-anchor="start" font-weight="normal" fill="#333" stroke="#333" stroke-width="0.2">20</text>
<text x="0.00" y="0.00" font-size="7.6" text-anchor="middle" font-weight="normal" fill="#222" stroke="#222" stroke-width="0.15" transform="translate(467.60,225.40) rotate(-90)" textLength="27" lengthAdjust="spacingAndGlyphs">Number of</text>
<text x="0.00" y="0.00" font-size="7.6" text-anchor="middle" font-weight="normal" fill="#222" stroke="#222" stroke-width="0.15" transform="translate(478.30,225.40) rotate(-90)" textLength="25" lengthAdjust="spacingAndGlyphs">mutations</text>
<text x="0.00" y="0.00" font-size="7.6" text-anchor="middle" font-weight="normal" fill="#222" stroke="#222" stroke-width="0.15" transform="translate(467.50,289.00) rotate(-90)" textLength="33.7" lengthAdjust="spacingAndGlyphs">% mutations</text>
<text x="0.00" y="0.00" font-size="7.6" text-anchor="middle" font-weight="normal" fill="#222" stroke="#222" stroke-width="0.15" transform="translate(478.30,287.00) rotate(-90)" textLength="25.5" lengthAdjust="spacingAndGlyphs">in patients</text>
<rect x="273.40" y="379.40" width="8.90" height="5.70" fill="#2C4B8A"/>
<text x="284.90" y="384.30" font-size="5.2" text-anchor="start" font-weight="normal" fill="#222" stroke="#222" stroke-width="0.15" textLength="46.6" lengthAdjust="spacingAndGlyphs">Number of Mutations</text>
<rect x="340.10" y="379.40" width="9.10" height="5.70" fill="#E38C15"/>
<text x="351.60" y="384.30" font-size="5.2" text-anchor="start" font-weight="normal" fill="#222" stroke="#222" stroke-width="0.15" textLength="52.3" lengthAdjust="spacingAndGlyphs">% Mutations in Patients</text>
</svg>
</body></html>
